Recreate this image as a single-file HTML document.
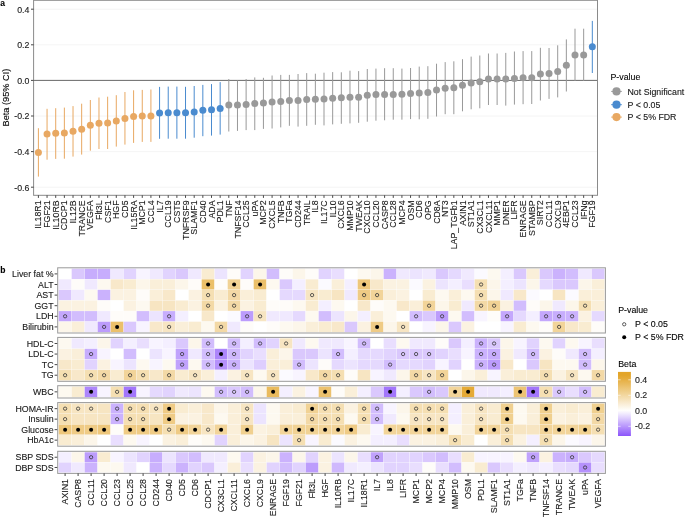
<!DOCTYPE html>
<html><head><meta charset="utf-8"><style>
html,body{margin:0;padding:0;background:#fff;width:685px;height:517px;overflow:hidden}
svg{display:block;filter:blur(0.3px)}
text{font-family:"Liberation Sans",sans-serif;stroke:#1a1a1a;stroke-width:0.12px}
</style></head><body>
<svg width="685" height="517" viewBox="0 0 685 517" font-family="Liberation Sans, sans-serif">
<rect x="0" y="0" width="685" height="517" fill="#fff"/>
<line x1="33.6" x2="597.5" y1="9.20" y2="9.20" stroke="#ebebeb" stroke-width="0.55"/>
<line x1="33.6" x2="597.5" y1="44.80" y2="44.80" stroke="#ebebeb" stroke-width="0.55"/>
<line x1="33.6" x2="597.5" y1="80.40" y2="80.40" stroke="#ebebeb" stroke-width="0.55"/>
<line x1="33.6" x2="597.5" y1="116.00" y2="116.00" stroke="#ebebeb" stroke-width="0.55"/>
<line x1="33.6" x2="597.5" y1="151.60" y2="151.60" stroke="#ebebeb" stroke-width="0.55"/>
<line x1="33.6" x2="597.5" y1="187.20" y2="187.20" stroke="#ebebeb" stroke-width="0.55"/>
<line x1="33.6" x2="597.5" y1="80.40" y2="80.40" stroke="#5a5a5a" stroke-width="0.9"/>
<line x1="38.40" x2="38.40" y1="128.20" y2="176.60" stroke="#e8a862" stroke-width="1.0"/>
<line x1="47.05" x2="47.05" y1="108.80" y2="159.70" stroke="#e8a862" stroke-width="1.0"/>
<line x1="55.71" x2="55.71" y1="108.20" y2="158.90" stroke="#e8a862" stroke-width="1.0"/>
<line x1="64.36" x2="64.36" y1="107.60" y2="158.70" stroke="#e8a862" stroke-width="1.0"/>
<line x1="73.02" x2="73.02" y1="106.10" y2="156.60" stroke="#e8a862" stroke-width="1.0"/>
<line x1="81.67" x2="81.67" y1="103.70" y2="154.60" stroke="#e8a862" stroke-width="1.0"/>
<line x1="90.33" x2="90.33" y1="100.00" y2="150.70" stroke="#e8a862" stroke-width="1.0"/>
<line x1="98.98" x2="98.98" y1="97.50" y2="149.00" stroke="#e8a862" stroke-width="1.0"/>
<line x1="107.64" x2="107.64" y1="96.70" y2="149.00" stroke="#e8a862" stroke-width="1.0"/>
<line x1="116.29" x2="116.29" y1="95.20" y2="146.60" stroke="#e8a862" stroke-width="1.0"/>
<line x1="124.95" x2="124.95" y1="92.00" y2="144.60" stroke="#e8a862" stroke-width="1.0"/>
<line x1="133.60" x2="133.60" y1="90.30" y2="142.90" stroke="#e8a862" stroke-width="1.0"/>
<line x1="142.26" x2="142.26" y1="89.90" y2="141.90" stroke="#e8a862" stroke-width="1.0"/>
<line x1="150.91" x2="150.91" y1="89.50" y2="141.90" stroke="#e8a862" stroke-width="1.0"/>
<line x1="159.57" x2="159.57" y1="86.90" y2="138.80" stroke="#4a8bcf" stroke-width="1.0"/>
<line x1="168.22" x2="168.22" y1="86.60" y2="138.70" stroke="#4a8bcf" stroke-width="1.0"/>
<line x1="176.88" x2="176.88" y1="86.60" y2="138.70" stroke="#4a8bcf" stroke-width="1.0"/>
<line x1="185.53" x2="185.53" y1="86.80" y2="138.70" stroke="#4a8bcf" stroke-width="1.0"/>
<line x1="194.19" x2="194.19" y1="86.00" y2="137.70" stroke="#4a8bcf" stroke-width="1.0"/>
<line x1="202.84" x2="202.84" y1="84.90" y2="136.20" stroke="#4a8bcf" stroke-width="1.0"/>
<line x1="211.50" x2="211.50" y1="84.10" y2="135.60" stroke="#4a8bcf" stroke-width="1.0"/>
<line x1="220.16" x2="220.16" y1="82.10" y2="134.60" stroke="#4a8bcf" stroke-width="1.0"/>
<line x1="228.81" x2="228.81" y1="79.00" y2="131.50" stroke="#999999" stroke-width="1.0"/>
<line x1="237.47" x2="237.47" y1="80.40" y2="130.90" stroke="#999999" stroke-width="1.0"/>
<line x1="246.12" x2="246.12" y1="79.00" y2="130.10" stroke="#999999" stroke-width="1.0"/>
<line x1="254.77" x2="254.77" y1="77.40" y2="130.10" stroke="#999999" stroke-width="1.0"/>
<line x1="263.43" x2="263.43" y1="77.80" y2="128.90" stroke="#999999" stroke-width="1.0"/>
<line x1="272.08" x2="272.08" y1="75.50" y2="128.50" stroke="#999999" stroke-width="1.0"/>
<line x1="280.74" x2="280.74" y1="74.90" y2="127.40" stroke="#999999" stroke-width="1.0"/>
<line x1="289.39" x2="289.39" y1="74.90" y2="125.80" stroke="#999999" stroke-width="1.0"/>
<line x1="298.05" x2="298.05" y1="74.00" y2="126.60" stroke="#999999" stroke-width="1.0"/>
<line x1="306.70" x2="306.70" y1="73.10" y2="125.80" stroke="#999999" stroke-width="1.0"/>
<line x1="315.36" x2="315.36" y1="73.70" y2="124.80" stroke="#999999" stroke-width="1.0"/>
<line x1="324.01" x2="324.01" y1="72.70" y2="125.40" stroke="#999999" stroke-width="1.0"/>
<line x1="332.67" x2="332.67" y1="72.10" y2="124.40" stroke="#999999" stroke-width="1.0"/>
<line x1="341.32" x2="341.32" y1="72.30" y2="123.80" stroke="#999999" stroke-width="1.0"/>
<line x1="349.98" x2="349.98" y1="70.70" y2="123.40" stroke="#999999" stroke-width="1.0"/>
<line x1="358.63" x2="358.63" y1="71.10" y2="122.80" stroke="#999999" stroke-width="1.0"/>
<line x1="367.29" x2="367.29" y1="69.00" y2="121.70" stroke="#999999" stroke-width="1.0"/>
<line x1="375.94" x2="375.94" y1="68.60" y2="120.70" stroke="#999999" stroke-width="1.0"/>
<line x1="384.60" x2="384.60" y1="68.20" y2="120.30" stroke="#999999" stroke-width="1.0"/>
<line x1="393.25" x2="393.25" y1="68.20" y2="119.70" stroke="#999999" stroke-width="1.0"/>
<line x1="401.91" x2="401.91" y1="68.60" y2="119.70" stroke="#999999" stroke-width="1.0"/>
<line x1="410.56" x2="410.56" y1="68.00" y2="119.10" stroke="#999999" stroke-width="1.0"/>
<line x1="419.22" x2="419.22" y1="66.60" y2="119.30" stroke="#999999" stroke-width="1.0"/>
<line x1="427.87" x2="427.87" y1="66.20" y2="118.80" stroke="#999999" stroke-width="1.0"/>
<line x1="436.53" x2="436.53" y1="63.70" y2="116.50" stroke="#999999" stroke-width="1.0"/>
<line x1="445.18" x2="445.18" y1="62.10" y2="114.20" stroke="#999999" stroke-width="1.0"/>
<line x1="453.84" x2="453.84" y1="61.30" y2="114.20" stroke="#999999" stroke-width="1.0"/>
<line x1="462.49" x2="462.49" y1="59.20" y2="111.30" stroke="#999999" stroke-width="1.0"/>
<line x1="471.15" x2="471.15" y1="56.60" y2="109.30" stroke="#999999" stroke-width="1.0"/>
<line x1="479.80" x2="479.80" y1="55.50" y2="108.30" stroke="#999999" stroke-width="1.0"/>
<line x1="488.46" x2="488.46" y1="53.50" y2="105.00" stroke="#999999" stroke-width="1.0"/>
<line x1="497.11" x2="497.11" y1="53.50" y2="105.00" stroke="#999999" stroke-width="1.0"/>
<line x1="505.77" x2="505.77" y1="52.90" y2="105.60" stroke="#999999" stroke-width="1.0"/>
<line x1="514.42" x2="514.42" y1="51.50" y2="104.60" stroke="#999999" stroke-width="1.0"/>
<line x1="523.08" x2="523.08" y1="51.10" y2="104.20" stroke="#999999" stroke-width="1.0"/>
<line x1="531.74" x2="531.74" y1="51.10" y2="104.00" stroke="#999999" stroke-width="1.0"/>
<line x1="540.39" x2="540.39" y1="47.80" y2="100.50" stroke="#999999" stroke-width="1.0"/>
<line x1="549.04" x2="549.04" y1="48.00" y2="98.90" stroke="#999999" stroke-width="1.0"/>
<line x1="557.70" x2="557.70" y1="45.30" y2="97.40" stroke="#999999" stroke-width="1.0"/>
<line x1="566.35" x2="566.35" y1="39.40" y2="91.50" stroke="#999999" stroke-width="1.0"/>
<line x1="575.01" x2="575.01" y1="28.70" y2="80.90" stroke="#999999" stroke-width="1.0"/>
<line x1="583.66" x2="583.66" y1="28.70" y2="80.90" stroke="#999999" stroke-width="1.0"/>
<line x1="592.32" x2="592.32" y1="20.90" y2="73.00" stroke="#4a8bcf" stroke-width="1.0"/>
<circle cx="38.40" cy="152.50" r="3.5" fill="#e8a862"/>
<circle cx="47.05" cy="134.10" r="3.5" fill="#e8a862"/>
<circle cx="55.71" cy="133.30" r="3.5" fill="#e8a862"/>
<circle cx="64.36" cy="132.90" r="3.5" fill="#e8a862"/>
<circle cx="73.02" cy="131.30" r="3.5" fill="#e8a862"/>
<circle cx="81.67" cy="129.20" r="3.5" fill="#e8a862"/>
<circle cx="90.33" cy="125.30" r="3.5" fill="#e8a862"/>
<circle cx="98.98" cy="123.30" r="3.5" fill="#e8a862"/>
<circle cx="107.64" cy="122.90" r="3.5" fill="#e8a862"/>
<circle cx="116.29" cy="121.00" r="3.5" fill="#e8a862"/>
<circle cx="124.95" cy="118.40" r="3.5" fill="#e8a862"/>
<circle cx="133.60" cy="116.60" r="3.5" fill="#e8a862"/>
<circle cx="142.26" cy="116.10" r="3.5" fill="#e8a862"/>
<circle cx="150.91" cy="115.90" r="3.5" fill="#e8a862"/>
<circle cx="159.57" cy="113.00" r="3.5" fill="#4a8bcf"/>
<circle cx="168.22" cy="112.70" r="3.5" fill="#4a8bcf"/>
<circle cx="176.88" cy="112.70" r="3.5" fill="#4a8bcf"/>
<circle cx="185.53" cy="112.70" r="3.5" fill="#4a8bcf"/>
<circle cx="194.19" cy="112.10" r="3.5" fill="#4a8bcf"/>
<circle cx="202.84" cy="110.30" r="3.5" fill="#4a8bcf"/>
<circle cx="211.50" cy="109.70" r="3.5" fill="#4a8bcf"/>
<circle cx="220.16" cy="108.40" r="3.5" fill="#4a8bcf"/>
<circle cx="228.81" cy="105.00" r="3.5" fill="#999999"/>
<circle cx="237.47" cy="105.00" r="3.5" fill="#999999"/>
<circle cx="246.12" cy="104.60" r="3.5" fill="#999999"/>
<circle cx="254.77" cy="103.50" r="3.5" fill="#999999"/>
<circle cx="263.43" cy="103.10" r="3.5" fill="#999999"/>
<circle cx="272.08" cy="101.90" r="3.5" fill="#999999"/>
<circle cx="280.74" cy="101.50" r="3.5" fill="#999999"/>
<circle cx="289.39" cy="100.50" r="3.5" fill="#999999"/>
<circle cx="298.05" cy="100.40" r="3.5" fill="#999999"/>
<circle cx="306.70" cy="99.50" r="3.5" fill="#999999"/>
<circle cx="315.36" cy="99.30" r="3.5" fill="#999999"/>
<circle cx="324.01" cy="98.90" r="3.5" fill="#999999"/>
<circle cx="332.67" cy="98.20" r="3.5" fill="#999999"/>
<circle cx="341.32" cy="97.80" r="3.5" fill="#999999"/>
<circle cx="349.98" cy="97.20" r="3.5" fill="#999999"/>
<circle cx="358.63" cy="97.20" r="3.5" fill="#999999"/>
<circle cx="367.29" cy="95.20" r="3.5" fill="#999999"/>
<circle cx="375.94" cy="94.60" r="3.5" fill="#999999"/>
<circle cx="384.60" cy="94.40" r="3.5" fill="#999999"/>
<circle cx="393.25" cy="94.40" r="3.5" fill="#999999"/>
<circle cx="401.91" cy="94.20" r="3.5" fill="#999999"/>
<circle cx="410.56" cy="93.50" r="3.5" fill="#999999"/>
<circle cx="419.22" cy="93.10" r="3.5" fill="#999999"/>
<circle cx="427.87" cy="92.50" r="3.5" fill="#999999"/>
<circle cx="436.53" cy="89.90" r="3.5" fill="#999999"/>
<circle cx="445.18" cy="88.20" r="3.5" fill="#999999"/>
<circle cx="453.84" cy="87.80" r="3.5" fill="#999999"/>
<circle cx="462.49" cy="85.20" r="3.5" fill="#999999"/>
<circle cx="471.15" cy="83.10" r="3.5" fill="#999999"/>
<circle cx="479.80" cy="81.70" r="3.5" fill="#999999"/>
<circle cx="488.46" cy="79.00" r="3.5" fill="#999999"/>
<circle cx="497.11" cy="79.00" r="3.5" fill="#999999"/>
<circle cx="505.77" cy="79.00" r="3.5" fill="#999999"/>
<circle cx="514.42" cy="78.40" r="3.5" fill="#999999"/>
<circle cx="523.08" cy="77.70" r="3.5" fill="#999999"/>
<circle cx="531.74" cy="77.70" r="3.5" fill="#999999"/>
<circle cx="540.39" cy="74.00" r="3.5" fill="#999999"/>
<circle cx="549.04" cy="73.40" r="3.5" fill="#999999"/>
<circle cx="557.70" cy="71.60" r="3.5" fill="#999999"/>
<circle cx="566.35" cy="65.30" r="3.5" fill="#999999"/>
<circle cx="575.01" cy="54.90" r="3.5" fill="#999999"/>
<circle cx="583.66" cy="54.90" r="3.5" fill="#999999"/>
<circle cx="592.32" cy="46.80" r="3.5" fill="#4a8bcf"/>
<rect x="33.6" y="0.3" width="563.90" height="195.00" fill="none" stroke="#8a8a8a" stroke-width="1"/>
<line x1="31.0" x2="33.6" y1="9.20" y2="9.20" stroke="#333" stroke-width="0.9"/>
<text x="29.4" y="12.60" font-size="8.8" text-anchor="end" fill="#1a1a1a">0.4</text>
<line x1="31.0" x2="33.6" y1="44.80" y2="44.80" stroke="#333" stroke-width="0.9"/>
<text x="29.4" y="48.20" font-size="8.8" text-anchor="end" fill="#1a1a1a">0.2</text>
<line x1="31.0" x2="33.6" y1="80.40" y2="80.40" stroke="#333" stroke-width="0.9"/>
<text x="29.4" y="83.80" font-size="8.8" text-anchor="end" fill="#1a1a1a">0.0</text>
<line x1="31.0" x2="33.6" y1="116.00" y2="116.00" stroke="#333" stroke-width="0.9"/>
<text x="29.4" y="119.40" font-size="8.8" text-anchor="end" fill="#1a1a1a">-0.2</text>
<line x1="31.0" x2="33.6" y1="151.60" y2="151.60" stroke="#333" stroke-width="0.9"/>
<text x="29.4" y="155.00" font-size="8.8" text-anchor="end" fill="#1a1a1a">-0.4</text>
<line x1="31.0" x2="33.6" y1="187.20" y2="187.20" stroke="#333" stroke-width="0.9"/>
<text x="29.4" y="190.60" font-size="8.8" text-anchor="end" fill="#1a1a1a">-0.6</text>
<text transform="translate(8.8,97.6) rotate(-90)" font-size="9.2" text-anchor="middle" fill="#000">Beta (95% CI)</text>
<line x1="38.40" x2="38.40" y1="195.3" y2="197.9" stroke="#333" stroke-width="0.9"/>
<text transform="translate(41.45,200.4) rotate(-90)" font-size="8.8" text-anchor="end" fill="#1a1a1a">IL18R1</text>
<line x1="47.05" x2="47.05" y1="195.3" y2="197.9" stroke="#333" stroke-width="0.9"/>
<text transform="translate(50.10,200.4) rotate(-90)" font-size="8.8" text-anchor="end" fill="#1a1a1a">FGF21</text>
<line x1="55.71" x2="55.71" y1="195.3" y2="197.9" stroke="#333" stroke-width="0.9"/>
<text transform="translate(58.76,200.4) rotate(-90)" font-size="8.8" text-anchor="end" fill="#1a1a1a">IL10RB</text>
<line x1="64.36" x2="64.36" y1="195.3" y2="197.9" stroke="#333" stroke-width="0.9"/>
<text transform="translate(67.41,200.4) rotate(-90)" font-size="8.8" text-anchor="end" fill="#1a1a1a">CDCP1</text>
<line x1="73.02" x2="73.02" y1="195.3" y2="197.9" stroke="#333" stroke-width="0.9"/>
<text transform="translate(76.07,200.4) rotate(-90)" font-size="8.8" text-anchor="end" fill="#1a1a1a">IL12B</text>
<line x1="81.67" x2="81.67" y1="195.3" y2="197.9" stroke="#333" stroke-width="0.9"/>
<text transform="translate(84.72,200.4) rotate(-90)" font-size="8.8" text-anchor="end" fill="#1a1a1a">TRANCE</text>
<line x1="90.33" x2="90.33" y1="195.3" y2="197.9" stroke="#333" stroke-width="0.9"/>
<text transform="translate(93.38,200.4) rotate(-90)" font-size="8.8" text-anchor="end" fill="#1a1a1a">VEGFA</text>
<line x1="98.98" x2="98.98" y1="195.3" y2="197.9" stroke="#333" stroke-width="0.9"/>
<text transform="translate(102.03,200.4) rotate(-90)" font-size="8.8" text-anchor="end" fill="#1a1a1a">Flt3L</text>
<line x1="107.64" x2="107.64" y1="195.3" y2="197.9" stroke="#333" stroke-width="0.9"/>
<text transform="translate(110.69,200.4) rotate(-90)" font-size="8.8" text-anchor="end" fill="#1a1a1a">CSF1</text>
<line x1="116.29" x2="116.29" y1="195.3" y2="197.9" stroke="#333" stroke-width="0.9"/>
<text transform="translate(119.34,200.4) rotate(-90)" font-size="8.8" text-anchor="end" fill="#1a1a1a">HGF</text>
<line x1="124.95" x2="124.95" y1="195.3" y2="197.9" stroke="#333" stroke-width="0.9"/>
<text transform="translate(128.00,200.4) rotate(-90)" font-size="8.8" text-anchor="end" fill="#1a1a1a">CD5</text>
<line x1="133.60" x2="133.60" y1="195.3" y2="197.9" stroke="#333" stroke-width="0.9"/>
<text transform="translate(136.66,200.4) rotate(-90)" font-size="8.8" text-anchor="end" fill="#1a1a1a">IL15RA</text>
<line x1="142.26" x2="142.26" y1="195.3" y2="197.9" stroke="#333" stroke-width="0.9"/>
<text transform="translate(145.31,200.4) rotate(-90)" font-size="8.8" text-anchor="end" fill="#1a1a1a">MCP1</text>
<line x1="150.91" x2="150.91" y1="195.3" y2="197.9" stroke="#333" stroke-width="0.9"/>
<text transform="translate(153.97,200.4) rotate(-90)" font-size="8.8" text-anchor="end" fill="#1a1a1a">CCL4</text>
<line x1="159.57" x2="159.57" y1="195.3" y2="197.9" stroke="#333" stroke-width="0.9"/>
<text transform="translate(162.62,200.4) rotate(-90)" font-size="8.8" text-anchor="end" fill="#1a1a1a">IL7</text>
<line x1="168.22" x2="168.22" y1="195.3" y2="197.9" stroke="#333" stroke-width="0.9"/>
<text transform="translate(171.28,200.4) rotate(-90)" font-size="8.8" text-anchor="end" fill="#1a1a1a">CCL19</text>
<line x1="176.88" x2="176.88" y1="195.3" y2="197.9" stroke="#333" stroke-width="0.9"/>
<text transform="translate(179.93,200.4) rotate(-90)" font-size="8.8" text-anchor="end" fill="#1a1a1a">CST5</text>
<line x1="185.53" x2="185.53" y1="195.3" y2="197.9" stroke="#333" stroke-width="0.9"/>
<text transform="translate(188.59,200.4) rotate(-90)" font-size="8.8" text-anchor="end" fill="#1a1a1a">TNFRSF9</text>
<line x1="194.19" x2="194.19" y1="195.3" y2="197.9" stroke="#333" stroke-width="0.9"/>
<text transform="translate(197.24,200.4) rotate(-90)" font-size="8.8" text-anchor="end" fill="#1a1a1a">SLAMF1</text>
<line x1="202.84" x2="202.84" y1="195.3" y2="197.9" stroke="#333" stroke-width="0.9"/>
<text transform="translate(205.90,200.4) rotate(-90)" font-size="8.8" text-anchor="end" fill="#1a1a1a">CD40</text>
<line x1="211.50" x2="211.50" y1="195.3" y2="197.9" stroke="#333" stroke-width="0.9"/>
<text transform="translate(214.55,200.4) rotate(-90)" font-size="8.8" text-anchor="end" fill="#1a1a1a">ADA</text>
<line x1="220.16" x2="220.16" y1="195.3" y2="197.9" stroke="#333" stroke-width="0.9"/>
<text transform="translate(223.21,200.4) rotate(-90)" font-size="8.8" text-anchor="end" fill="#1a1a1a">PDL1</text>
<line x1="228.81" x2="228.81" y1="195.3" y2="197.9" stroke="#333" stroke-width="0.9"/>
<text transform="translate(231.86,200.4) rotate(-90)" font-size="8.8" text-anchor="end" fill="#1a1a1a">TNF</text>
<line x1="237.47" x2="237.47" y1="195.3" y2="197.9" stroke="#333" stroke-width="0.9"/>
<text transform="translate(240.52,200.4) rotate(-90)" font-size="8.8" text-anchor="end" fill="#1a1a1a">TNFSF14</text>
<line x1="246.12" x2="246.12" y1="195.3" y2="197.9" stroke="#333" stroke-width="0.9"/>
<text transform="translate(249.17,200.4) rotate(-90)" font-size="8.8" text-anchor="end" fill="#1a1a1a">CCL25</text>
<line x1="254.77" x2="254.77" y1="195.3" y2="197.9" stroke="#333" stroke-width="0.9"/>
<text transform="translate(257.82,200.4) rotate(-90)" font-size="8.8" text-anchor="end" fill="#1a1a1a">uPA</text>
<line x1="263.43" x2="263.43" y1="195.3" y2="197.9" stroke="#333" stroke-width="0.9"/>
<text transform="translate(266.48,200.4) rotate(-90)" font-size="8.8" text-anchor="end" fill="#1a1a1a">MCP2</text>
<line x1="272.08" x2="272.08" y1="195.3" y2="197.9" stroke="#333" stroke-width="0.9"/>
<text transform="translate(275.13,200.4) rotate(-90)" font-size="8.8" text-anchor="end" fill="#1a1a1a">CXCL5</text>
<line x1="280.74" x2="280.74" y1="195.3" y2="197.9" stroke="#333" stroke-width="0.9"/>
<text transform="translate(283.79,200.4) rotate(-90)" font-size="8.8" text-anchor="end" fill="#1a1a1a">TNFB</text>
<line x1="289.39" x2="289.39" y1="195.3" y2="197.9" stroke="#333" stroke-width="0.9"/>
<text transform="translate(292.44,200.4) rotate(-90)" font-size="8.8" text-anchor="end" fill="#1a1a1a">TGFa</text>
<line x1="298.05" x2="298.05" y1="195.3" y2="197.9" stroke="#333" stroke-width="0.9"/>
<text transform="translate(301.10,200.4) rotate(-90)" font-size="8.8" text-anchor="end" fill="#1a1a1a">CD244</text>
<line x1="306.70" x2="306.70" y1="195.3" y2="197.9" stroke="#333" stroke-width="0.9"/>
<text transform="translate(309.75,200.4) rotate(-90)" font-size="8.8" text-anchor="end" fill="#1a1a1a">TRAIL</text>
<line x1="315.36" x2="315.36" y1="195.3" y2="197.9" stroke="#333" stroke-width="0.9"/>
<text transform="translate(318.41,200.4) rotate(-90)" font-size="8.8" text-anchor="end" fill="#1a1a1a">IL8</text>
<line x1="324.01" x2="324.01" y1="195.3" y2="197.9" stroke="#333" stroke-width="0.9"/>
<text transform="translate(327.06,200.4) rotate(-90)" font-size="8.8" text-anchor="end" fill="#1a1a1a">IL17C</text>
<line x1="332.67" x2="332.67" y1="195.3" y2="197.9" stroke="#333" stroke-width="0.9"/>
<text transform="translate(335.72,200.4) rotate(-90)" font-size="8.8" text-anchor="end" fill="#1a1a1a">IL10</text>
<line x1="341.32" x2="341.32" y1="195.3" y2="197.9" stroke="#333" stroke-width="0.9"/>
<text transform="translate(344.37,200.4) rotate(-90)" font-size="8.8" text-anchor="end" fill="#1a1a1a">CXCL6</text>
<line x1="349.98" x2="349.98" y1="195.3" y2="197.9" stroke="#333" stroke-width="0.9"/>
<text transform="translate(353.03,200.4) rotate(-90)" font-size="8.8" text-anchor="end" fill="#1a1a1a">MMP10</text>
<line x1="358.63" x2="358.63" y1="195.3" y2="197.9" stroke="#333" stroke-width="0.9"/>
<text transform="translate(361.68,200.4) rotate(-90)" font-size="8.8" text-anchor="end" fill="#1a1a1a">TWEAK</text>
<line x1="367.29" x2="367.29" y1="195.3" y2="197.9" stroke="#333" stroke-width="0.9"/>
<text transform="translate(370.34,200.4) rotate(-90)" font-size="8.8" text-anchor="end" fill="#1a1a1a">CXCL10</text>
<line x1="375.94" x2="375.94" y1="195.3" y2="197.9" stroke="#333" stroke-width="0.9"/>
<text transform="translate(378.99,200.4) rotate(-90)" font-size="8.8" text-anchor="end" fill="#1a1a1a">CCL20</text>
<line x1="384.60" x2="384.60" y1="195.3" y2="197.9" stroke="#333" stroke-width="0.9"/>
<text transform="translate(387.65,200.4) rotate(-90)" font-size="8.8" text-anchor="end" fill="#1a1a1a">CASP8</text>
<line x1="393.25" x2="393.25" y1="195.3" y2="197.9" stroke="#333" stroke-width="0.9"/>
<text transform="translate(396.30,200.4) rotate(-90)" font-size="8.8" text-anchor="end" fill="#1a1a1a">CCL28</text>
<line x1="401.91" x2="401.91" y1="195.3" y2="197.9" stroke="#333" stroke-width="0.9"/>
<text transform="translate(404.96,200.4) rotate(-90)" font-size="8.8" text-anchor="end" fill="#1a1a1a">MCP4</text>
<line x1="410.56" x2="410.56" y1="195.3" y2="197.9" stroke="#333" stroke-width="0.9"/>
<text transform="translate(413.61,200.4) rotate(-90)" font-size="8.8" text-anchor="end" fill="#1a1a1a">OSM</text>
<line x1="419.22" x2="419.22" y1="195.3" y2="197.9" stroke="#333" stroke-width="0.9"/>
<text transform="translate(422.27,200.4) rotate(-90)" font-size="8.8" text-anchor="end" fill="#1a1a1a">CD6</text>
<line x1="427.87" x2="427.87" y1="195.3" y2="197.9" stroke="#333" stroke-width="0.9"/>
<text transform="translate(430.92,200.4) rotate(-90)" font-size="8.8" text-anchor="end" fill="#1a1a1a">OPG</text>
<line x1="436.53" x2="436.53" y1="195.3" y2="197.9" stroke="#333" stroke-width="0.9"/>
<text transform="translate(439.58,200.4) rotate(-90)" font-size="8.8" text-anchor="end" fill="#1a1a1a">CD8A</text>
<line x1="445.18" x2="445.18" y1="195.3" y2="197.9" stroke="#333" stroke-width="0.9"/>
<text transform="translate(448.23,200.4) rotate(-90)" font-size="8.8" text-anchor="end" fill="#1a1a1a">NT3</text>
<line x1="453.84" x2="453.84" y1="195.3" y2="197.9" stroke="#333" stroke-width="0.9"/>
<text transform="translate(456.89,200.4) rotate(-90)" font-size="8.8" text-anchor="end" fill="#1a1a1a">LAP_TGFb1</text>
<line x1="462.49" x2="462.49" y1="195.3" y2="197.9" stroke="#333" stroke-width="0.9"/>
<text transform="translate(465.54,200.4) rotate(-90)" font-size="8.8" text-anchor="end" fill="#1a1a1a">AXIN1</text>
<line x1="471.15" x2="471.15" y1="195.3" y2="197.9" stroke="#333" stroke-width="0.9"/>
<text transform="translate(474.20,200.4) rotate(-90)" font-size="8.8" text-anchor="end" fill="#1a1a1a">ST1A1</text>
<line x1="479.80" x2="479.80" y1="195.3" y2="197.9" stroke="#333" stroke-width="0.9"/>
<text transform="translate(482.85,200.4) rotate(-90)" font-size="8.8" text-anchor="end" fill="#1a1a1a">CX3CL1</text>
<line x1="488.46" x2="488.46" y1="195.3" y2="197.9" stroke="#333" stroke-width="0.9"/>
<text transform="translate(491.51,200.4) rotate(-90)" font-size="8.8" text-anchor="end" fill="#1a1a1a">CXCL11</text>
<line x1="497.11" x2="497.11" y1="195.3" y2="197.9" stroke="#333" stroke-width="0.9"/>
<text transform="translate(500.16,200.4) rotate(-90)" font-size="8.8" text-anchor="end" fill="#1a1a1a">MMP1</text>
<line x1="505.77" x2="505.77" y1="195.3" y2="197.9" stroke="#333" stroke-width="0.9"/>
<text transform="translate(508.82,200.4) rotate(-90)" font-size="8.8" text-anchor="end" fill="#1a1a1a">DNER</text>
<line x1="514.42" x2="514.42" y1="195.3" y2="197.9" stroke="#333" stroke-width="0.9"/>
<text transform="translate(517.47,200.4) rotate(-90)" font-size="8.8" text-anchor="end" fill="#1a1a1a">LIFR</text>
<line x1="523.08" x2="523.08" y1="195.3" y2="197.9" stroke="#333" stroke-width="0.9"/>
<text transform="translate(526.13,200.4) rotate(-90)" font-size="8.8" text-anchor="end" fill="#1a1a1a">ENRAGE</text>
<line x1="531.74" x2="531.74" y1="195.3" y2="197.9" stroke="#333" stroke-width="0.9"/>
<text transform="translate(534.78,200.4) rotate(-90)" font-size="8.8" text-anchor="end" fill="#1a1a1a">STAMBP</text>
<line x1="540.39" x2="540.39" y1="195.3" y2="197.9" stroke="#333" stroke-width="0.9"/>
<text transform="translate(543.44,200.4) rotate(-90)" font-size="8.8" text-anchor="end" fill="#1a1a1a">SIRT2</text>
<line x1="549.04" x2="549.04" y1="195.3" y2="197.9" stroke="#333" stroke-width="0.9"/>
<text transform="translate(552.09,200.4) rotate(-90)" font-size="8.8" text-anchor="end" fill="#1a1a1a">CCL11</text>
<line x1="557.70" x2="557.70" y1="195.3" y2="197.9" stroke="#333" stroke-width="0.9"/>
<text transform="translate(560.75,200.4) rotate(-90)" font-size="8.8" text-anchor="end" fill="#1a1a1a">CXCL9</text>
<line x1="566.35" x2="566.35" y1="195.3" y2="197.9" stroke="#333" stroke-width="0.9"/>
<text transform="translate(569.40,200.4) rotate(-90)" font-size="8.8" text-anchor="end" fill="#1a1a1a">4EBP1</text>
<line x1="575.01" x2="575.01" y1="195.3" y2="197.9" stroke="#333" stroke-width="0.9"/>
<text transform="translate(578.06,200.4) rotate(-90)" font-size="8.8" text-anchor="end" fill="#1a1a1a">CCL23</text>
<line x1="583.66" x2="583.66" y1="195.3" y2="197.9" stroke="#333" stroke-width="0.9"/>
<text transform="translate(586.71,200.4) rotate(-90)" font-size="8.8" text-anchor="end" fill="#1a1a1a">IFNg</text>
<line x1="592.32" x2="592.32" y1="195.3" y2="197.9" stroke="#333" stroke-width="0.9"/>
<text transform="translate(595.37,200.4) rotate(-90)" font-size="8.8" text-anchor="end" fill="#1a1a1a">FGF19</text>
<text x="0.2" y="6.3" font-size="8.5" font-weight="bold" fill="#000">a</text>
<text x="610.5" y="80.1" font-size="8.8" fill="#000">P-value</text>
<line x1="611.2" x2="621.8" y1="91.4" y2="91.4" stroke="#999999" stroke-width="1"/>
<circle cx="616.5" cy="91.4" r="4.1" fill="#999999"/>
<text x="627.5" y="94.60" font-size="8.8" fill="#1a1a1a">Not Significant</text>
<line x1="611.2" x2="621.8" y1="104.7" y2="104.7" stroke="#4a8bcf" stroke-width="1"/>
<circle cx="616.5" cy="104.7" r="4.1" fill="#4a8bcf"/>
<text x="627.5" y="107.90" font-size="8.8" fill="#1a1a1a">P &lt; 0.05</text>
<line x1="611.2" x2="621.8" y1="117.1" y2="117.1" stroke="#e8a862" stroke-width="1"/>
<circle cx="616.5" cy="117.1" r="4.1" fill="#e8a862"/>
<text x="627.5" y="120.30" font-size="8.8" fill="#1a1a1a">P &lt; 5% FDR</text>
<text x="0.2" y="273.0" font-size="8.5" font-weight="bold" fill="#000">b</text>
<rect x="58.60" y="268.60" width="13.00" height="10.60" fill="#ffffff" stroke="#fff" stroke-width="0.2"/>
<rect x="71.60" y="268.60" width="13.00" height="10.60" fill="#dac8fd" stroke="#fff" stroke-width="0.2"/>
<rect x="84.60" y="268.60" width="13.00" height="10.60" fill="#c7adfd" stroke="#fff" stroke-width="0.2"/>
<rect x="97.60" y="268.60" width="13.00" height="10.60" fill="#c7adfd" stroke="#fff" stroke-width="0.2"/>
<rect x="110.60" y="268.60" width="13.00" height="10.60" fill="#f0e9fe" stroke="#fff" stroke-width="0.2"/>
<rect x="123.60" y="268.60" width="13.00" height="10.60" fill="#e1d3fe" stroke="#fff" stroke-width="0.2"/>
<rect x="136.60" y="268.60" width="13.00" height="10.60" fill="#f8f4ff" stroke="#fff" stroke-width="0.2"/>
<rect x="149.60" y="268.60" width="13.00" height="10.60" fill="#f0e9fe" stroke="#fff" stroke-width="0.2"/>
<rect x="162.60" y="268.60" width="13.00" height="10.60" fill="#e1d3fe" stroke="#fff" stroke-width="0.2"/>
<rect x="175.60" y="268.60" width="13.00" height="10.60" fill="#dac8fd" stroke="#fff" stroke-width="0.2"/>
<rect x="188.60" y="268.60" width="13.00" height="10.60" fill="#f0e9fe" stroke="#fff" stroke-width="0.2"/>
<rect x="201.60" y="268.60" width="13.00" height="10.60" fill="#f9ecd1" stroke="#fff" stroke-width="0.2"/>
<rect x="214.60" y="268.60" width="13.00" height="10.60" fill="#ece4fe" stroke="#fff" stroke-width="0.2"/>
<rect x="227.60" y="268.60" width="13.00" height="10.60" fill="#fefcf9" stroke="#fff" stroke-width="0.2"/>
<rect x="240.60" y="268.60" width="13.00" height="10.60" fill="#e1d3fe" stroke="#fff" stroke-width="0.2"/>
<rect x="253.60" y="268.60" width="13.00" height="10.60" fill="#fcf6ea" stroke="#fff" stroke-width="0.2"/>
<rect x="266.60" y="268.60" width="13.00" height="10.60" fill="#d2bdfd" stroke="#fff" stroke-width="0.2"/>
<rect x="279.60" y="268.60" width="13.00" height="10.60" fill="#fefcf9" stroke="#fff" stroke-width="0.2"/>
<rect x="292.60" y="268.60" width="13.00" height="10.60" fill="#fcf6ea" stroke="#fff" stroke-width="0.2"/>
<rect x="305.60" y="268.60" width="13.00" height="10.60" fill="#fefcf9" stroke="#fff" stroke-width="0.2"/>
<rect x="318.60" y="268.60" width="13.00" height="10.60" fill="#e1d3fe" stroke="#fff" stroke-width="0.2"/>
<rect x="331.60" y="268.60" width="13.00" height="10.60" fill="#e9defe" stroke="#fff" stroke-width="0.2"/>
<rect x="344.60" y="268.60" width="13.00" height="10.60" fill="#ffffff" stroke="#fff" stroke-width="0.2"/>
<rect x="357.60" y="268.60" width="13.00" height="10.60" fill="#fdf9f0" stroke="#fff" stroke-width="0.2"/>
<rect x="370.60" y="268.60" width="13.00" height="10.60" fill="#fcf6ea" stroke="#fff" stroke-width="0.2"/>
<rect x="383.60" y="268.60" width="13.00" height="10.60" fill="#cbb2fd" stroke="#fff" stroke-width="0.2"/>
<rect x="396.60" y="268.60" width="13.00" height="10.60" fill="#f0e9fe" stroke="#fff" stroke-width="0.2"/>
<rect x="409.60" y="268.60" width="13.00" height="10.60" fill="#ece4fe" stroke="#fff" stroke-width="0.2"/>
<rect x="422.60" y="268.60" width="13.00" height="10.60" fill="#f0e9fe" stroke="#fff" stroke-width="0.2"/>
<rect x="435.60" y="268.60" width="13.00" height="10.60" fill="#dac8fd" stroke="#fff" stroke-width="0.2"/>
<rect x="448.60" y="268.60" width="13.00" height="10.60" fill="#e5d9fe" stroke="#fff" stroke-width="0.2"/>
<rect x="461.60" y="268.60" width="13.00" height="10.60" fill="#f0e9fe" stroke="#fff" stroke-width="0.2"/>
<rect x="474.60" y="268.60" width="13.00" height="10.60" fill="#fbfaff" stroke="#fff" stroke-width="0.2"/>
<rect x="487.60" y="268.60" width="13.00" height="10.60" fill="#fdf9f0" stroke="#fff" stroke-width="0.2"/>
<rect x="500.60" y="268.60" width="13.00" height="10.60" fill="#f4efff" stroke="#fff" stroke-width="0.2"/>
<rect x="513.60" y="268.60" width="13.00" height="10.60" fill="#dac8fd" stroke="#fff" stroke-width="0.2"/>
<rect x="526.60" y="268.60" width="13.00" height="10.60" fill="#faefd9" stroke="#fff" stroke-width="0.2"/>
<rect x="539.60" y="268.60" width="13.00" height="10.60" fill="#dac8fd" stroke="#fff" stroke-width="0.2"/>
<rect x="552.60" y="268.60" width="13.00" height="10.60" fill="#cbb2fd" stroke="#fff" stroke-width="0.2"/>
<rect x="565.60" y="268.60" width="13.00" height="10.60" fill="#d2bdfd" stroke="#fff" stroke-width="0.2"/>
<rect x="578.60" y="268.60" width="13.00" height="10.60" fill="#f0e9fe" stroke="#fff" stroke-width="0.2"/>
<rect x="591.60" y="268.60" width="13.00" height="10.60" fill="#dac8fd" stroke="#fff" stroke-width="0.2"/>
<rect x="58.60" y="279.20" width="13.00" height="10.60" fill="#f0e9fe" stroke="#fff" stroke-width="0.2"/>
<rect x="71.60" y="279.20" width="13.00" height="10.60" fill="#fefcf9" stroke="#fff" stroke-width="0.2"/>
<rect x="84.60" y="279.20" width="13.00" height="10.60" fill="#f0e9fe" stroke="#fff" stroke-width="0.2"/>
<rect x="97.60" y="279.20" width="13.00" height="10.60" fill="#fdf9f0" stroke="#fff" stroke-width="0.2"/>
<rect x="110.60" y="279.20" width="13.00" height="10.60" fill="#f8e8ca" stroke="#fff" stroke-width="0.2"/>
<rect x="123.60" y="279.20" width="13.00" height="10.60" fill="#f9ecd1" stroke="#fff" stroke-width="0.2"/>
<rect x="136.60" y="279.20" width="13.00" height="10.60" fill="#fcf6ea" stroke="#fff" stroke-width="0.2"/>
<rect x="149.60" y="279.20" width="13.00" height="10.60" fill="#faefd9" stroke="#fff" stroke-width="0.2"/>
<rect x="162.60" y="279.20" width="13.00" height="10.60" fill="#faefd9" stroke="#fff" stroke-width="0.2"/>
<rect x="175.60" y="279.20" width="13.00" height="10.60" fill="#fcf6ea" stroke="#fff" stroke-width="0.2"/>
<rect x="188.60" y="279.20" width="13.00" height="10.60" fill="#fefcf9" stroke="#fff" stroke-width="0.2"/>
<rect x="201.60" y="279.20" width="13.00" height="10.60" fill="#ebc06a" stroke="#fff" stroke-width="0.2"/>
<rect x="214.60" y="279.20" width="13.00" height="10.60" fill="#fefcf9" stroke="#fff" stroke-width="0.2"/>
<rect x="227.60" y="279.20" width="13.00" height="10.60" fill="#f1d294" stroke="#fff" stroke-width="0.2"/>
<rect x="240.60" y="279.20" width="13.00" height="10.60" fill="#fefcf9" stroke="#fff" stroke-width="0.2"/>
<rect x="253.60" y="279.20" width="13.00" height="10.60" fill="#ebc06a" stroke="#fff" stroke-width="0.2"/>
<rect x="266.60" y="279.20" width="13.00" height="10.60" fill="#fdf9f0" stroke="#fff" stroke-width="0.2"/>
<rect x="279.60" y="279.20" width="13.00" height="10.60" fill="#dac8fd" stroke="#fff" stroke-width="0.2"/>
<rect x="292.60" y="279.20" width="13.00" height="10.60" fill="#f4efff" stroke="#fff" stroke-width="0.2"/>
<rect x="305.60" y="279.20" width="13.00" height="10.60" fill="#f9ecd1" stroke="#fff" stroke-width="0.2"/>
<rect x="318.60" y="279.20" width="13.00" height="10.60" fill="#fbfaff" stroke="#fff" stroke-width="0.2"/>
<rect x="331.60" y="279.20" width="13.00" height="10.60" fill="#faefd9" stroke="#fff" stroke-width="0.2"/>
<rect x="344.60" y="279.20" width="13.00" height="10.60" fill="#f4efff" stroke="#fff" stroke-width="0.2"/>
<rect x="357.60" y="279.20" width="13.00" height="10.60" fill="#eec77b" stroke="#fff" stroke-width="0.2"/>
<rect x="370.60" y="279.20" width="13.00" height="10.60" fill="#f8e8ca" stroke="#fff" stroke-width="0.2"/>
<rect x="383.60" y="279.20" width="13.00" height="10.60" fill="#fbf2e1" stroke="#fff" stroke-width="0.2"/>
<rect x="396.60" y="279.20" width="13.00" height="10.60" fill="#fbf2e1" stroke="#fff" stroke-width="0.2"/>
<rect x="409.60" y="279.20" width="13.00" height="10.60" fill="#fbfaff" stroke="#fff" stroke-width="0.2"/>
<rect x="422.60" y="279.20" width="13.00" height="10.60" fill="#fbf2e1" stroke="#fff" stroke-width="0.2"/>
<rect x="435.60" y="279.20" width="13.00" height="10.60" fill="#ece4fe" stroke="#fff" stroke-width="0.2"/>
<rect x="448.60" y="279.20" width="13.00" height="10.60" fill="#f4efff" stroke="#fff" stroke-width="0.2"/>
<rect x="461.60" y="279.20" width="13.00" height="10.60" fill="#e9defe" stroke="#fff" stroke-width="0.2"/>
<rect x="474.60" y="279.20" width="13.00" height="10.60" fill="#f5dfb2" stroke="#fff" stroke-width="0.2"/>
<rect x="487.60" y="279.20" width="13.00" height="10.60" fill="#fcf6ea" stroke="#fff" stroke-width="0.2"/>
<rect x="500.60" y="279.20" width="13.00" height="10.60" fill="#f4efff" stroke="#fff" stroke-width="0.2"/>
<rect x="513.60" y="279.20" width="13.00" height="10.60" fill="#ece4fe" stroke="#fff" stroke-width="0.2"/>
<rect x="526.60" y="279.20" width="13.00" height="10.60" fill="#fcf6ea" stroke="#fff" stroke-width="0.2"/>
<rect x="539.60" y="279.20" width="13.00" height="10.60" fill="#e5d9fe" stroke="#fff" stroke-width="0.2"/>
<rect x="552.60" y="279.20" width="13.00" height="10.60" fill="#dac8fd" stroke="#fff" stroke-width="0.2"/>
<rect x="565.60" y="279.20" width="13.00" height="10.60" fill="#dac8fd" stroke="#fff" stroke-width="0.2"/>
<rect x="578.60" y="279.20" width="13.00" height="10.60" fill="#fcf6ea" stroke="#fff" stroke-width="0.2"/>
<rect x="591.60" y="279.20" width="13.00" height="10.60" fill="#faefd9" stroke="#fff" stroke-width="0.2"/>
<rect x="58.60" y="289.80" width="13.00" height="10.60" fill="#dac8fd" stroke="#fff" stroke-width="0.2"/>
<rect x="71.60" y="289.80" width="13.00" height="10.60" fill="#f0e9fe" stroke="#fff" stroke-width="0.2"/>
<rect x="84.60" y="289.80" width="13.00" height="10.60" fill="#fdf9f0" stroke="#fff" stroke-width="0.2"/>
<rect x="97.60" y="289.80" width="13.00" height="10.60" fill="#cbb2fd" stroke="#fff" stroke-width="0.2"/>
<rect x="110.60" y="289.80" width="13.00" height="10.60" fill="#fbf2e1" stroke="#fff" stroke-width="0.2"/>
<rect x="123.60" y="289.80" width="13.00" height="10.60" fill="#fbf2e1" stroke="#fff" stroke-width="0.2"/>
<rect x="136.60" y="289.80" width="13.00" height="10.60" fill="#fefcf9" stroke="#fff" stroke-width="0.2"/>
<rect x="149.60" y="289.80" width="13.00" height="10.60" fill="#faefd9" stroke="#fff" stroke-width="0.2"/>
<rect x="162.60" y="289.80" width="13.00" height="10.60" fill="#f8e8ca" stroke="#fff" stroke-width="0.2"/>
<rect x="175.60" y="289.80" width="13.00" height="10.60" fill="#ffffff" stroke="#fff" stroke-width="0.2"/>
<rect x="188.60" y="289.80" width="13.00" height="10.60" fill="#fbf2e1" stroke="#fff" stroke-width="0.2"/>
<rect x="201.60" y="289.80" width="13.00" height="10.60" fill="#f5dfb2" stroke="#fff" stroke-width="0.2"/>
<rect x="214.60" y="289.80" width="13.00" height="10.60" fill="#f9ecd1" stroke="#fff" stroke-width="0.2"/>
<rect x="227.60" y="289.80" width="13.00" height="10.60" fill="#f3d9a6" stroke="#fff" stroke-width="0.2"/>
<rect x="240.60" y="289.80" width="13.00" height="10.60" fill="#faefd9" stroke="#fff" stroke-width="0.2"/>
<rect x="253.60" y="289.80" width="13.00" height="10.60" fill="#f9ecd1" stroke="#fff" stroke-width="0.2"/>
<rect x="266.60" y="289.80" width="13.00" height="10.60" fill="#ffffff" stroke="#fff" stroke-width="0.2"/>
<rect x="279.60" y="289.80" width="13.00" height="10.60" fill="#e5d9fe" stroke="#fff" stroke-width="0.2"/>
<rect x="292.60" y="289.80" width="13.00" height="10.60" fill="#e5d9fe" stroke="#fff" stroke-width="0.2"/>
<rect x="305.60" y="289.80" width="13.00" height="10.60" fill="#f7e5c2" stroke="#fff" stroke-width="0.2"/>
<rect x="318.60" y="289.80" width="13.00" height="10.60" fill="#f9ecd1" stroke="#fff" stroke-width="0.2"/>
<rect x="331.60" y="289.80" width="13.00" height="10.60" fill="#f7e5c2" stroke="#fff" stroke-width="0.2"/>
<rect x="344.60" y="289.80" width="13.00" height="10.60" fill="#f0e9fe" stroke="#fff" stroke-width="0.2"/>
<rect x="357.60" y="289.80" width="13.00" height="10.60" fill="#efcb85" stroke="#fff" stroke-width="0.2"/>
<rect x="370.60" y="289.80" width="13.00" height="10.60" fill="#f2d499" stroke="#fff" stroke-width="0.2"/>
<rect x="383.60" y="289.80" width="13.00" height="10.60" fill="#faefd9" stroke="#fff" stroke-width="0.2"/>
<rect x="396.60" y="289.80" width="13.00" height="10.60" fill="#fbf2e1" stroke="#fff" stroke-width="0.2"/>
<rect x="409.60" y="289.80" width="13.00" height="10.60" fill="#ffffff" stroke="#fff" stroke-width="0.2"/>
<rect x="422.60" y="289.80" width="13.00" height="10.60" fill="#f9ecd1" stroke="#fff" stroke-width="0.2"/>
<rect x="435.60" y="289.80" width="13.00" height="10.60" fill="#fdf9f0" stroke="#fff" stroke-width="0.2"/>
<rect x="448.60" y="289.80" width="13.00" height="10.60" fill="#faefd9" stroke="#fff" stroke-width="0.2"/>
<rect x="461.60" y="289.80" width="13.00" height="10.60" fill="#fdf9f0" stroke="#fff" stroke-width="0.2"/>
<rect x="474.60" y="289.80" width="13.00" height="10.60" fill="#f5dfb2" stroke="#fff" stroke-width="0.2"/>
<rect x="487.60" y="289.80" width="13.00" height="10.60" fill="#fcf6ea" stroke="#fff" stroke-width="0.2"/>
<rect x="500.60" y="289.80" width="13.00" height="10.60" fill="#f0e9fe" stroke="#fff" stroke-width="0.2"/>
<rect x="513.60" y="289.80" width="13.00" height="10.60" fill="#f8e8ca" stroke="#fff" stroke-width="0.2"/>
<rect x="526.60" y="289.80" width="13.00" height="10.60" fill="#fbfaff" stroke="#fff" stroke-width="0.2"/>
<rect x="539.60" y="289.80" width="13.00" height="10.60" fill="#ffffff" stroke="#fff" stroke-width="0.2"/>
<rect x="552.60" y="289.80" width="13.00" height="10.60" fill="#f7e5c2" stroke="#fff" stroke-width="0.2"/>
<rect x="565.60" y="289.80" width="13.00" height="10.60" fill="#fbfaff" stroke="#fff" stroke-width="0.2"/>
<rect x="578.60" y="289.80" width="13.00" height="10.60" fill="#faefd9" stroke="#fff" stroke-width="0.2"/>
<rect x="591.60" y="289.80" width="13.00" height="10.60" fill="#faefd9" stroke="#fff" stroke-width="0.2"/>
<rect x="58.60" y="300.40" width="13.00" height="10.60" fill="#fbf2e1" stroke="#fff" stroke-width="0.2"/>
<rect x="71.60" y="300.40" width="13.00" height="10.60" fill="#fbf2e1" stroke="#fff" stroke-width="0.2"/>
<rect x="84.60" y="300.40" width="13.00" height="10.60" fill="#fbf2e1" stroke="#fff" stroke-width="0.2"/>
<rect x="97.60" y="300.40" width="13.00" height="10.60" fill="#fefcf9" stroke="#fff" stroke-width="0.2"/>
<rect x="110.60" y="300.40" width="13.00" height="10.60" fill="#ffffff" stroke="#fff" stroke-width="0.2"/>
<rect x="123.60" y="300.40" width="13.00" height="10.60" fill="#fbf2e1" stroke="#fff" stroke-width="0.2"/>
<rect x="136.60" y="300.40" width="13.00" height="10.60" fill="#fdf9f0" stroke="#fff" stroke-width="0.2"/>
<rect x="149.60" y="300.40" width="13.00" height="10.60" fill="#f7e5c2" stroke="#fff" stroke-width="0.2"/>
<rect x="162.60" y="300.40" width="13.00" height="10.60" fill="#f7e5c2" stroke="#fff" stroke-width="0.2"/>
<rect x="175.60" y="300.40" width="13.00" height="10.60" fill="#f9ecd1" stroke="#fff" stroke-width="0.2"/>
<rect x="188.60" y="300.40" width="13.00" height="10.60" fill="#fbf2e1" stroke="#fff" stroke-width="0.2"/>
<rect x="201.60" y="300.40" width="13.00" height="10.60" fill="#f3d9a6" stroke="#fff" stroke-width="0.2"/>
<rect x="214.60" y="300.40" width="13.00" height="10.60" fill="#fbf2e1" stroke="#fff" stroke-width="0.2"/>
<rect x="227.60" y="300.40" width="13.00" height="10.60" fill="#f3d9a6" stroke="#fff" stroke-width="0.2"/>
<rect x="240.60" y="300.40" width="13.00" height="10.60" fill="#fbf2e1" stroke="#fff" stroke-width="0.2"/>
<rect x="253.60" y="300.40" width="13.00" height="10.60" fill="#f9ecd1" stroke="#fff" stroke-width="0.2"/>
<rect x="266.60" y="300.40" width="13.00" height="10.60" fill="#fefcf9" stroke="#fff" stroke-width="0.2"/>
<rect x="279.60" y="300.40" width="13.00" height="10.60" fill="#fefcf9" stroke="#fff" stroke-width="0.2"/>
<rect x="292.60" y="300.40" width="13.00" height="10.60" fill="#fdf9f0" stroke="#fff" stroke-width="0.2"/>
<rect x="305.60" y="300.40" width="13.00" height="10.60" fill="#f9ecd1" stroke="#fff" stroke-width="0.2"/>
<rect x="318.60" y="300.40" width="13.00" height="10.60" fill="#f4efff" stroke="#fff" stroke-width="0.2"/>
<rect x="331.60" y="300.40" width="13.00" height="10.60" fill="#fdf9f0" stroke="#fff" stroke-width="0.2"/>
<rect x="344.60" y="300.40" width="13.00" height="10.60" fill="#ffffff" stroke="#fff" stroke-width="0.2"/>
<rect x="357.60" y="300.40" width="13.00" height="10.60" fill="#f8e8ca" stroke="#fff" stroke-width="0.2"/>
<rect x="370.60" y="300.40" width="13.00" height="10.60" fill="#fefcf9" stroke="#fff" stroke-width="0.2"/>
<rect x="383.60" y="300.40" width="13.00" height="10.60" fill="#fdf9f0" stroke="#fff" stroke-width="0.2"/>
<rect x="396.60" y="300.40" width="13.00" height="10.60" fill="#f8e8ca" stroke="#fff" stroke-width="0.2"/>
<rect x="409.60" y="300.40" width="13.00" height="10.60" fill="#faefd9" stroke="#fff" stroke-width="0.2"/>
<rect x="422.60" y="300.40" width="13.00" height="10.60" fill="#f2d499" stroke="#fff" stroke-width="0.2"/>
<rect x="435.60" y="300.40" width="13.00" height="10.60" fill="#fcf6ea" stroke="#fff" stroke-width="0.2"/>
<rect x="448.60" y="300.40" width="13.00" height="10.60" fill="#f9ecd1" stroke="#fff" stroke-width="0.2"/>
<rect x="461.60" y="300.40" width="13.00" height="10.60" fill="#f0e9fe" stroke="#fff" stroke-width="0.2"/>
<rect x="474.60" y="300.40" width="13.00" height="10.60" fill="#f3d9a6" stroke="#fff" stroke-width="0.2"/>
<rect x="487.60" y="300.40" width="13.00" height="10.60" fill="#f1d294" stroke="#fff" stroke-width="0.2"/>
<rect x="500.60" y="300.40" width="13.00" height="10.60" fill="#fbf2e1" stroke="#fff" stroke-width="0.2"/>
<rect x="513.60" y="300.40" width="13.00" height="10.60" fill="#d2bdfd" stroke="#fff" stroke-width="0.2"/>
<rect x="526.60" y="300.40" width="13.00" height="10.60" fill="#fefcf9" stroke="#fff" stroke-width="0.2"/>
<rect x="539.60" y="300.40" width="13.00" height="10.60" fill="#fcf6ea" stroke="#fff" stroke-width="0.2"/>
<rect x="552.60" y="300.40" width="13.00" height="10.60" fill="#f0e9fe" stroke="#fff" stroke-width="0.2"/>
<rect x="565.60" y="300.40" width="13.00" height="10.60" fill="#fcf6ea" stroke="#fff" stroke-width="0.2"/>
<rect x="578.60" y="300.40" width="13.00" height="10.60" fill="#f5dfb2" stroke="#fff" stroke-width="0.2"/>
<rect x="591.60" y="300.40" width="13.00" height="10.60" fill="#faefd9" stroke="#fff" stroke-width="0.2"/>
<rect x="58.60" y="311.00" width="13.00" height="10.60" fill="#c4a7fc" stroke="#fff" stroke-width="0.2"/>
<rect x="71.60" y="311.00" width="13.00" height="10.60" fill="#d2bdfd" stroke="#fff" stroke-width="0.2"/>
<rect x="84.60" y="311.00" width="13.00" height="10.60" fill="#d2bdfd" stroke="#fff" stroke-width="0.2"/>
<rect x="97.60" y="311.00" width="13.00" height="10.60" fill="#f0e9fe" stroke="#fff" stroke-width="0.2"/>
<rect x="110.60" y="311.00" width="13.00" height="10.60" fill="#fefcf9" stroke="#fff" stroke-width="0.2"/>
<rect x="123.60" y="311.00" width="13.00" height="10.60" fill="#fefcf9" stroke="#fff" stroke-width="0.2"/>
<rect x="136.60" y="311.00" width="13.00" height="10.60" fill="#d2bdfd" stroke="#fff" stroke-width="0.2"/>
<rect x="149.60" y="311.00" width="13.00" height="10.60" fill="#ece4fe" stroke="#fff" stroke-width="0.2"/>
<rect x="162.60" y="311.00" width="13.00" height="10.60" fill="#c7adfd" stroke="#fff" stroke-width="0.2"/>
<rect x="175.60" y="311.00" width="13.00" height="10.60" fill="#f4efff" stroke="#fff" stroke-width="0.2"/>
<rect x="188.60" y="311.00" width="13.00" height="10.60" fill="#ffffff" stroke="#fff" stroke-width="0.2"/>
<rect x="201.60" y="311.00" width="13.00" height="10.60" fill="#f8e8ca" stroke="#fff" stroke-width="0.2"/>
<rect x="214.60" y="311.00" width="13.00" height="10.60" fill="#ffffff" stroke="#fff" stroke-width="0.2"/>
<rect x="227.60" y="311.00" width="13.00" height="10.60" fill="#fbfaff" stroke="#fff" stroke-width="0.2"/>
<rect x="240.60" y="311.00" width="13.00" height="10.60" fill="#bc9cfc" stroke="#fff" stroke-width="0.2"/>
<rect x="253.60" y="311.00" width="13.00" height="10.60" fill="#f7e5c2" stroke="#fff" stroke-width="0.2"/>
<rect x="266.60" y="311.00" width="13.00" height="10.60" fill="#f0e9fe" stroke="#fff" stroke-width="0.2"/>
<rect x="279.60" y="311.00" width="13.00" height="10.60" fill="#f0e9fe" stroke="#fff" stroke-width="0.2"/>
<rect x="292.60" y="311.00" width="13.00" height="10.60" fill="#e5d9fe" stroke="#fff" stroke-width="0.2"/>
<rect x="305.60" y="311.00" width="13.00" height="10.60" fill="#fdf9f0" stroke="#fff" stroke-width="0.2"/>
<rect x="318.60" y="311.00" width="13.00" height="10.60" fill="#d2bdfd" stroke="#fff" stroke-width="0.2"/>
<rect x="331.60" y="311.00" width="13.00" height="10.60" fill="#ece4fe" stroke="#fff" stroke-width="0.2"/>
<rect x="344.60" y="311.00" width="13.00" height="10.60" fill="#fcf6ea" stroke="#fff" stroke-width="0.2"/>
<rect x="357.60" y="311.00" width="13.00" height="10.60" fill="#f4efff" stroke="#fff" stroke-width="0.2"/>
<rect x="370.60" y="311.00" width="13.00" height="10.60" fill="#faefd9" stroke="#fff" stroke-width="0.2"/>
<rect x="383.60" y="311.00" width="13.00" height="10.60" fill="#fdf9f0" stroke="#fff" stroke-width="0.2"/>
<rect x="396.60" y="311.00" width="13.00" height="10.60" fill="#ffffff" stroke="#fff" stroke-width="0.2"/>
<rect x="409.60" y="311.00" width="13.00" height="10.60" fill="#d2bdfd" stroke="#fff" stroke-width="0.2"/>
<rect x="422.60" y="311.00" width="13.00" height="10.60" fill="#dac8fd" stroke="#fff" stroke-width="0.2"/>
<rect x="435.60" y="311.00" width="13.00" height="10.60" fill="#bc9cfc" stroke="#fff" stroke-width="0.2"/>
<rect x="448.60" y="311.00" width="13.00" height="10.60" fill="#fdf9f0" stroke="#fff" stroke-width="0.2"/>
<rect x="461.60" y="311.00" width="13.00" height="10.60" fill="#d2bdfd" stroke="#fff" stroke-width="0.2"/>
<rect x="474.60" y="311.00" width="13.00" height="10.60" fill="#f8f4ff" stroke="#fff" stroke-width="0.2"/>
<rect x="487.60" y="311.00" width="13.00" height="10.60" fill="#fefcf9" stroke="#fff" stroke-width="0.2"/>
<rect x="500.60" y="311.00" width="13.00" height="10.60" fill="#c4a7fc" stroke="#fff" stroke-width="0.2"/>
<rect x="513.60" y="311.00" width="13.00" height="10.60" fill="#e5d9fe" stroke="#fff" stroke-width="0.2"/>
<rect x="526.60" y="311.00" width="13.00" height="10.60" fill="#f4efff" stroke="#fff" stroke-width="0.2"/>
<rect x="539.60" y="311.00" width="13.00" height="10.60" fill="#c4a7fc" stroke="#fff" stroke-width="0.2"/>
<rect x="552.60" y="311.00" width="13.00" height="10.60" fill="#c7adfd" stroke="#fff" stroke-width="0.2"/>
<rect x="565.60" y="311.00" width="13.00" height="10.60" fill="#cbb2fd" stroke="#fff" stroke-width="0.2"/>
<rect x="578.60" y="311.00" width="13.00" height="10.60" fill="#fbf2e1" stroke="#fff" stroke-width="0.2"/>
<rect x="591.60" y="311.00" width="13.00" height="10.60" fill="#e5d9fe" stroke="#fff" stroke-width="0.2"/>
<rect x="58.60" y="321.60" width="13.00" height="10.60" fill="#fcf6ea" stroke="#fff" stroke-width="0.2"/>
<rect x="71.60" y="321.60" width="13.00" height="10.60" fill="#faefd9" stroke="#fff" stroke-width="0.2"/>
<rect x="84.60" y="321.60" width="13.00" height="10.60" fill="#f0e9fe" stroke="#fff" stroke-width="0.2"/>
<rect x="97.60" y="321.60" width="13.00" height="10.60" fill="#bc9cfc" stroke="#fff" stroke-width="0.2"/>
<rect x="110.60" y="321.60" width="13.00" height="10.60" fill="#ebc06a" stroke="#fff" stroke-width="0.2"/>
<rect x="123.60" y="321.60" width="13.00" height="10.60" fill="#dac8fd" stroke="#fff" stroke-width="0.2"/>
<rect x="136.60" y="321.60" width="13.00" height="10.60" fill="#f8f4ff" stroke="#fff" stroke-width="0.2"/>
<rect x="149.60" y="321.60" width="13.00" height="10.60" fill="#f8e8ca" stroke="#fff" stroke-width="0.2"/>
<rect x="162.60" y="321.60" width="13.00" height="10.60" fill="#f7e5c2" stroke="#fff" stroke-width="0.2"/>
<rect x="175.60" y="321.60" width="13.00" height="10.60" fill="#faefd9" stroke="#fff" stroke-width="0.2"/>
<rect x="188.60" y="321.60" width="13.00" height="10.60" fill="#f9ecd1" stroke="#fff" stroke-width="0.2"/>
<rect x="201.60" y="321.60" width="13.00" height="10.60" fill="#fdf9f0" stroke="#fff" stroke-width="0.2"/>
<rect x="214.60" y="321.60" width="13.00" height="10.60" fill="#f3d9a6" stroke="#fff" stroke-width="0.2"/>
<rect x="227.60" y="321.60" width="13.00" height="10.60" fill="#f0e9fe" stroke="#fff" stroke-width="0.2"/>
<rect x="240.60" y="321.60" width="13.00" height="10.60" fill="#fefcf9" stroke="#fff" stroke-width="0.2"/>
<rect x="253.60" y="321.60" width="13.00" height="10.60" fill="#ffffff" stroke="#fff" stroke-width="0.2"/>
<rect x="266.60" y="321.60" width="13.00" height="10.60" fill="#fefcf9" stroke="#fff" stroke-width="0.2"/>
<rect x="279.60" y="321.60" width="13.00" height="10.60" fill="#fdf9f0" stroke="#fff" stroke-width="0.2"/>
<rect x="292.60" y="321.60" width="13.00" height="10.60" fill="#fcf6ea" stroke="#fff" stroke-width="0.2"/>
<rect x="305.60" y="321.60" width="13.00" height="10.60" fill="#faefd9" stroke="#fff" stroke-width="0.2"/>
<rect x="318.60" y="321.60" width="13.00" height="10.60" fill="#f9ecd1" stroke="#fff" stroke-width="0.2"/>
<rect x="331.60" y="321.60" width="13.00" height="10.60" fill="#f8e8ca" stroke="#fff" stroke-width="0.2"/>
<rect x="344.60" y="321.60" width="13.00" height="10.60" fill="#dac8fd" stroke="#fff" stroke-width="0.2"/>
<rect x="357.60" y="321.60" width="13.00" height="10.60" fill="#fbf2e1" stroke="#fff" stroke-width="0.2"/>
<rect x="370.60" y="321.60" width="13.00" height="10.60" fill="#efcb85" stroke="#fff" stroke-width="0.2"/>
<rect x="383.60" y="321.60" width="13.00" height="10.60" fill="#fcf6ea" stroke="#fff" stroke-width="0.2"/>
<rect x="396.60" y="321.60" width="13.00" height="10.60" fill="#f7e5c2" stroke="#fff" stroke-width="0.2"/>
<rect x="409.60" y="321.60" width="13.00" height="10.60" fill="#ffffff" stroke="#fff" stroke-width="0.2"/>
<rect x="422.60" y="321.60" width="13.00" height="10.60" fill="#f8f4ff" stroke="#fff" stroke-width="0.2"/>
<rect x="435.60" y="321.60" width="13.00" height="10.60" fill="#fcf6ea" stroke="#fff" stroke-width="0.2"/>
<rect x="448.60" y="321.60" width="13.00" height="10.60" fill="#dac8fd" stroke="#fff" stroke-width="0.2"/>
<rect x="461.60" y="321.60" width="13.00" height="10.60" fill="#fbf2e1" stroke="#fff" stroke-width="0.2"/>
<rect x="474.60" y="321.60" width="13.00" height="10.60" fill="#ffffff" stroke="#fff" stroke-width="0.2"/>
<rect x="487.60" y="321.60" width="13.00" height="10.60" fill="#ffffff" stroke="#fff" stroke-width="0.2"/>
<rect x="500.60" y="321.60" width="13.00" height="10.60" fill="#f8f4ff" stroke="#fff" stroke-width="0.2"/>
<rect x="513.60" y="321.60" width="13.00" height="10.60" fill="#f9ecd1" stroke="#fff" stroke-width="0.2"/>
<rect x="526.60" y="321.60" width="13.00" height="10.60" fill="#fdf9f0" stroke="#fff" stroke-width="0.2"/>
<rect x="539.60" y="321.60" width="13.00" height="10.60" fill="#fefcf9" stroke="#fff" stroke-width="0.2"/>
<rect x="552.60" y="321.60" width="13.00" height="10.60" fill="#f2d499" stroke="#fff" stroke-width="0.2"/>
<rect x="565.60" y="321.60" width="13.00" height="10.60" fill="#f8e8ca" stroke="#fff" stroke-width="0.2"/>
<rect x="578.60" y="321.60" width="13.00" height="10.60" fill="#f9ecd1" stroke="#fff" stroke-width="0.2"/>
<rect x="591.60" y="321.60" width="13.00" height="10.60" fill="#fefcf9" stroke="#fff" stroke-width="0.2"/>
<line x1="54.6" x2="57.7" y1="273.90" y2="273.90" stroke="#333" stroke-width="0.9"/>
<text x="53.6" y="277.00" font-size="8.8" text-anchor="end" fill="#1a1a1a">Liver fat %</text>
<circle cx="208.10" cy="284.50" r="2.0" fill="#000"/>
<circle cx="234.10" cy="284.50" r="2.0" fill="#000"/>
<circle cx="260.10" cy="284.50" r="2.0" fill="#000"/>
<circle cx="364.10" cy="284.50" r="2.0" fill="#000"/>
<circle cx="481.10" cy="284.50" r="1.65" fill="none" stroke="#333" stroke-width="0.8"/>
<line x1="54.6" x2="57.7" y1="284.50" y2="284.50" stroke="#333" stroke-width="0.9"/>
<text x="53.6" y="287.60" font-size="8.8" text-anchor="end" fill="#1a1a1a">ALT</text>
<circle cx="208.10" cy="295.10" r="1.65" fill="none" stroke="#333" stroke-width="0.8"/>
<circle cx="234.10" cy="295.10" r="1.65" fill="none" stroke="#333" stroke-width="0.8"/>
<circle cx="312.10" cy="295.10" r="1.65" fill="none" stroke="#333" stroke-width="0.8"/>
<circle cx="364.10" cy="295.10" r="1.65" fill="none" stroke="#333" stroke-width="0.8"/>
<circle cx="377.10" cy="295.10" r="1.65" fill="none" stroke="#333" stroke-width="0.8"/>
<circle cx="481.10" cy="295.10" r="1.65" fill="none" stroke="#333" stroke-width="0.8"/>
<line x1="54.6" x2="57.7" y1="295.10" y2="295.10" stroke="#333" stroke-width="0.9"/>
<text x="53.6" y="298.20" font-size="8.8" text-anchor="end" fill="#1a1a1a">AST</text>
<circle cx="208.10" cy="305.70" r="1.65" fill="none" stroke="#333" stroke-width="0.8"/>
<circle cx="234.10" cy="305.70" r="1.65" fill="none" stroke="#333" stroke-width="0.8"/>
<circle cx="429.10" cy="305.70" r="1.65" fill="none" stroke="#333" stroke-width="0.8"/>
<circle cx="481.10" cy="305.70" r="1.65" fill="none" stroke="#333" stroke-width="0.8"/>
<circle cx="494.10" cy="305.70" r="1.65" fill="none" stroke="#333" stroke-width="0.8"/>
<circle cx="585.10" cy="305.70" r="1.65" fill="none" stroke="#333" stroke-width="0.8"/>
<line x1="54.6" x2="57.7" y1="305.70" y2="305.70" stroke="#333" stroke-width="0.9"/>
<text x="53.6" y="308.80" font-size="8.8" text-anchor="end" fill="#1a1a1a">GGT</text>
<circle cx="65.10" cy="316.30" r="1.65" fill="none" stroke="#333" stroke-width="0.8"/>
<circle cx="169.10" cy="316.30" r="1.65" fill="none" stroke="#333" stroke-width="0.8"/>
<circle cx="247.10" cy="316.30" r="1.65" fill="none" stroke="#333" stroke-width="0.8"/>
<circle cx="260.10" cy="316.30" r="1.65" fill="none" stroke="#333" stroke-width="0.8"/>
<circle cx="416.10" cy="316.30" r="1.65" fill="none" stroke="#333" stroke-width="0.8"/>
<circle cx="442.10" cy="316.30" r="1.65" fill="none" stroke="#333" stroke-width="0.8"/>
<circle cx="507.10" cy="316.30" r="1.65" fill="none" stroke="#333" stroke-width="0.8"/>
<circle cx="546.10" cy="316.30" r="1.65" fill="none" stroke="#333" stroke-width="0.8"/>
<circle cx="559.10" cy="316.30" r="1.65" fill="none" stroke="#333" stroke-width="0.8"/>
<circle cx="572.10" cy="316.30" r="1.65" fill="none" stroke="#333" stroke-width="0.8"/>
<line x1="54.6" x2="57.7" y1="316.30" y2="316.30" stroke="#333" stroke-width="0.9"/>
<text x="53.6" y="319.40" font-size="8.8" text-anchor="end" fill="#1a1a1a">LDH</text>
<circle cx="104.10" cy="326.90" r="1.65" fill="none" stroke="#333" stroke-width="0.8"/>
<circle cx="117.10" cy="326.90" r="2.0" fill="#000"/>
<circle cx="169.10" cy="326.90" r="1.65" fill="none" stroke="#333" stroke-width="0.8"/>
<circle cx="221.10" cy="326.90" r="1.65" fill="none" stroke="#333" stroke-width="0.8"/>
<circle cx="377.10" cy="326.90" r="2.0" fill="#000"/>
<circle cx="403.10" cy="326.90" r="1.65" fill="none" stroke="#333" stroke-width="0.8"/>
<circle cx="559.10" cy="326.90" r="1.65" fill="none" stroke="#333" stroke-width="0.8"/>
<line x1="54.6" x2="57.7" y1="326.90" y2="326.90" stroke="#333" stroke-width="0.9"/>
<text x="53.6" y="330.00" font-size="8.8" text-anchor="end" fill="#1a1a1a">Bilirubin</text>
<rect x="57.7" y="267.8" width="547.70" height="65.20" fill="none" stroke="#999" stroke-width="1"/>
<rect x="58.60" y="338.20" width="13.00" height="10.58" fill="#fdf9f0" stroke="#fff" stroke-width="0.2"/>
<rect x="71.60" y="338.20" width="13.00" height="10.58" fill="#f0e9fe" stroke="#fff" stroke-width="0.2"/>
<rect x="84.60" y="338.20" width="13.00" height="10.58" fill="#f4efff" stroke="#fff" stroke-width="0.2"/>
<rect x="97.60" y="338.20" width="13.00" height="10.58" fill="#fcf6ea" stroke="#fff" stroke-width="0.2"/>
<rect x="110.60" y="338.20" width="13.00" height="10.58" fill="#e1d3fe" stroke="#fff" stroke-width="0.2"/>
<rect x="123.60" y="338.20" width="13.00" height="10.58" fill="#f4efff" stroke="#fff" stroke-width="0.2"/>
<rect x="136.60" y="338.20" width="13.00" height="10.58" fill="#e9defe" stroke="#fff" stroke-width="0.2"/>
<rect x="149.60" y="338.20" width="13.00" height="10.58" fill="#f8f4ff" stroke="#fff" stroke-width="0.2"/>
<rect x="162.60" y="338.20" width="13.00" height="10.58" fill="#f4efff" stroke="#fff" stroke-width="0.2"/>
<rect x="175.60" y="338.20" width="13.00" height="10.58" fill="#dac8fd" stroke="#fff" stroke-width="0.2"/>
<rect x="188.60" y="338.20" width="13.00" height="10.58" fill="#fcf6ea" stroke="#fff" stroke-width="0.2"/>
<rect x="201.60" y="338.20" width="13.00" height="10.58" fill="#d2bdfd" stroke="#fff" stroke-width="0.2"/>
<rect x="214.60" y="338.20" width="13.00" height="10.58" fill="#ffffff" stroke="#fff" stroke-width="0.2"/>
<rect x="227.60" y="338.20" width="13.00" height="10.58" fill="#d2bdfd" stroke="#fff" stroke-width="0.2"/>
<rect x="240.60" y="338.20" width="13.00" height="10.58" fill="#f4efff" stroke="#fff" stroke-width="0.2"/>
<rect x="253.60" y="338.20" width="13.00" height="10.58" fill="#d2bdfd" stroke="#fff" stroke-width="0.2"/>
<rect x="266.60" y="338.20" width="13.00" height="10.58" fill="#e1d3fe" stroke="#fff" stroke-width="0.2"/>
<rect x="279.60" y="338.20" width="13.00" height="10.58" fill="#f7e5c2" stroke="#fff" stroke-width="0.2"/>
<rect x="292.60" y="338.20" width="13.00" height="10.58" fill="#f0e9fe" stroke="#fff" stroke-width="0.2"/>
<rect x="305.60" y="338.20" width="13.00" height="10.58" fill="#fdf9f0" stroke="#fff" stroke-width="0.2"/>
<rect x="318.60" y="338.20" width="13.00" height="10.58" fill="#f0e9fe" stroke="#fff" stroke-width="0.2"/>
<rect x="331.60" y="338.20" width="13.00" height="10.58" fill="#f0e9fe" stroke="#fff" stroke-width="0.2"/>
<rect x="344.60" y="338.20" width="13.00" height="10.58" fill="#f8f4ff" stroke="#fff" stroke-width="0.2"/>
<rect x="357.60" y="338.20" width="13.00" height="10.58" fill="#d2bdfd" stroke="#fff" stroke-width="0.2"/>
<rect x="370.60" y="338.20" width="13.00" height="10.58" fill="#ffffff" stroke="#fff" stroke-width="0.2"/>
<rect x="383.60" y="338.20" width="13.00" height="10.58" fill="#e9defe" stroke="#fff" stroke-width="0.2"/>
<rect x="396.60" y="338.20" width="13.00" height="10.58" fill="#fdf9f0" stroke="#fff" stroke-width="0.2"/>
<rect x="409.60" y="338.20" width="13.00" height="10.58" fill="#f0e9fe" stroke="#fff" stroke-width="0.2"/>
<rect x="422.60" y="338.20" width="13.00" height="10.58" fill="#f0e9fe" stroke="#fff" stroke-width="0.2"/>
<rect x="435.60" y="338.20" width="13.00" height="10.58" fill="#fefcf9" stroke="#fff" stroke-width="0.2"/>
<rect x="448.60" y="338.20" width="13.00" height="10.58" fill="#dac8fd" stroke="#fff" stroke-width="0.2"/>
<rect x="461.60" y="338.20" width="13.00" height="10.58" fill="#f4efff" stroke="#fff" stroke-width="0.2"/>
<rect x="474.60" y="338.20" width="13.00" height="10.58" fill="#cbb2fd" stroke="#fff" stroke-width="0.2"/>
<rect x="487.60" y="338.20" width="13.00" height="10.58" fill="#dac8fd" stroke="#fff" stroke-width="0.2"/>
<rect x="500.60" y="338.20" width="13.00" height="10.58" fill="#fcf6ea" stroke="#fff" stroke-width="0.2"/>
<rect x="513.60" y="338.20" width="13.00" height="10.58" fill="#f8f4ff" stroke="#fff" stroke-width="0.2"/>
<rect x="526.60" y="338.20" width="13.00" height="10.58" fill="#e1d3fe" stroke="#fff" stroke-width="0.2"/>
<rect x="539.60" y="338.20" width="13.00" height="10.58" fill="#fdf9f0" stroke="#fff" stroke-width="0.2"/>
<rect x="552.60" y="338.20" width="13.00" height="10.58" fill="#e1d3fe" stroke="#fff" stroke-width="0.2"/>
<rect x="565.60" y="338.20" width="13.00" height="10.58" fill="#fdf9f0" stroke="#fff" stroke-width="0.2"/>
<rect x="578.60" y="338.20" width="13.00" height="10.58" fill="#f8f4ff" stroke="#fff" stroke-width="0.2"/>
<rect x="591.60" y="338.20" width="13.00" height="10.58" fill="#e9defe" stroke="#fff" stroke-width="0.2"/>
<rect x="58.60" y="348.77" width="13.00" height="10.58" fill="#fbf2e1" stroke="#fff" stroke-width="0.2"/>
<rect x="71.60" y="348.77" width="13.00" height="10.58" fill="#faefd9" stroke="#fff" stroke-width="0.2"/>
<rect x="84.60" y="348.77" width="13.00" height="10.58" fill="#c7adfd" stroke="#fff" stroke-width="0.2"/>
<rect x="97.60" y="348.77" width="13.00" height="10.58" fill="#f8f4ff" stroke="#fff" stroke-width="0.2"/>
<rect x="110.60" y="348.77" width="13.00" height="10.58" fill="#ffffff" stroke="#fff" stroke-width="0.2"/>
<rect x="123.60" y="348.77" width="13.00" height="10.58" fill="#d2bdfd" stroke="#fff" stroke-width="0.2"/>
<rect x="136.60" y="348.77" width="13.00" height="10.58" fill="#ffffff" stroke="#fff" stroke-width="0.2"/>
<rect x="149.60" y="348.77" width="13.00" height="10.58" fill="#ece4fe" stroke="#fff" stroke-width="0.2"/>
<rect x="162.60" y="348.77" width="13.00" height="10.58" fill="#f8f4ff" stroke="#fff" stroke-width="0.2"/>
<rect x="175.60" y="348.77" width="13.00" height="10.58" fill="#c0a2fc" stroke="#fff" stroke-width="0.2"/>
<rect x="188.60" y="348.77" width="13.00" height="10.58" fill="#f0e9fe" stroke="#fff" stroke-width="0.2"/>
<rect x="201.60" y="348.77" width="13.00" height="10.58" fill="#d2bdfd" stroke="#fff" stroke-width="0.2"/>
<rect x="214.60" y="348.77" width="13.00" height="10.58" fill="#ad86fb" stroke="#fff" stroke-width="0.2"/>
<rect x="227.60" y="348.77" width="13.00" height="10.58" fill="#cfb8fd" stroke="#fff" stroke-width="0.2"/>
<rect x="240.60" y="348.77" width="13.00" height="10.58" fill="#e1d3fe" stroke="#fff" stroke-width="0.2"/>
<rect x="253.60" y="348.77" width="13.00" height="10.58" fill="#e9defe" stroke="#fff" stroke-width="0.2"/>
<rect x="266.60" y="348.77" width="13.00" height="10.58" fill="#faefd9" stroke="#fff" stroke-width="0.2"/>
<rect x="279.60" y="348.77" width="13.00" height="10.58" fill="#fcf6ea" stroke="#fff" stroke-width="0.2"/>
<rect x="292.60" y="348.77" width="13.00" height="10.58" fill="#dac8fd" stroke="#fff" stroke-width="0.2"/>
<rect x="305.60" y="348.77" width="13.00" height="10.58" fill="#dac8fd" stroke="#fff" stroke-width="0.2"/>
<rect x="318.60" y="348.77" width="13.00" height="10.58" fill="#ece4fe" stroke="#fff" stroke-width="0.2"/>
<rect x="331.60" y="348.77" width="13.00" height="10.58" fill="#d2bdfd" stroke="#fff" stroke-width="0.2"/>
<rect x="344.60" y="348.77" width="13.00" height="10.58" fill="#f4efff" stroke="#fff" stroke-width="0.2"/>
<rect x="357.60" y="348.77" width="13.00" height="10.58" fill="#e5d9fe" stroke="#fff" stroke-width="0.2"/>
<rect x="370.60" y="348.77" width="13.00" height="10.58" fill="#e5d9fe" stroke="#fff" stroke-width="0.2"/>
<rect x="383.60" y="348.77" width="13.00" height="10.58" fill="#e1d3fe" stroke="#fff" stroke-width="0.2"/>
<rect x="396.60" y="348.77" width="13.00" height="10.58" fill="#dac8fd" stroke="#fff" stroke-width="0.2"/>
<rect x="409.60" y="348.77" width="13.00" height="10.58" fill="#dac8fd" stroke="#fff" stroke-width="0.2"/>
<rect x="422.60" y="348.77" width="13.00" height="10.58" fill="#dac8fd" stroke="#fff" stroke-width="0.2"/>
<rect x="435.60" y="348.77" width="13.00" height="10.58" fill="#e1d3fe" stroke="#fff" stroke-width="0.2"/>
<rect x="448.60" y="348.77" width="13.00" height="10.58" fill="#e9defe" stroke="#fff" stroke-width="0.2"/>
<rect x="461.60" y="348.77" width="13.00" height="10.58" fill="#f8f4ff" stroke="#fff" stroke-width="0.2"/>
<rect x="474.60" y="348.77" width="13.00" height="10.58" fill="#cbb2fd" stroke="#fff" stroke-width="0.2"/>
<rect x="487.60" y="348.77" width="13.00" height="10.58" fill="#c7adfd" stroke="#fff" stroke-width="0.2"/>
<rect x="500.60" y="348.77" width="13.00" height="10.58" fill="#fbf2e1" stroke="#fff" stroke-width="0.2"/>
<rect x="513.60" y="348.77" width="13.00" height="10.58" fill="#f0e9fe" stroke="#fff" stroke-width="0.2"/>
<rect x="526.60" y="348.77" width="13.00" height="10.58" fill="#d2bdfd" stroke="#fff" stroke-width="0.2"/>
<rect x="539.60" y="348.77" width="13.00" height="10.58" fill="#fbf2e1" stroke="#fff" stroke-width="0.2"/>
<rect x="552.60" y="348.77" width="13.00" height="10.58" fill="#fefcf9" stroke="#fff" stroke-width="0.2"/>
<rect x="565.60" y="348.77" width="13.00" height="10.58" fill="#f0e9fe" stroke="#fff" stroke-width="0.2"/>
<rect x="578.60" y="348.77" width="13.00" height="10.58" fill="#d2bdfd" stroke="#fff" stroke-width="0.2"/>
<rect x="591.60" y="348.77" width="13.00" height="10.58" fill="#f4efff" stroke="#fff" stroke-width="0.2"/>
<rect x="58.60" y="359.35" width="13.00" height="10.58" fill="#f8e8ca" stroke="#fff" stroke-width="0.2"/>
<rect x="71.60" y="359.35" width="13.00" height="10.58" fill="#f9ecd1" stroke="#fff" stroke-width="0.2"/>
<rect x="84.60" y="359.35" width="13.00" height="10.58" fill="#e1d3fe" stroke="#fff" stroke-width="0.2"/>
<rect x="97.60" y="359.35" width="13.00" height="10.58" fill="#fbf2e1" stroke="#fff" stroke-width="0.2"/>
<rect x="110.60" y="359.35" width="13.00" height="10.58" fill="#f8f4ff" stroke="#fff" stroke-width="0.2"/>
<rect x="123.60" y="359.35" width="13.00" height="10.58" fill="#ece4fe" stroke="#fff" stroke-width="0.2"/>
<rect x="136.60" y="359.35" width="13.00" height="10.58" fill="#fdf9f0" stroke="#fff" stroke-width="0.2"/>
<rect x="149.60" y="359.35" width="13.00" height="10.58" fill="#f8f4ff" stroke="#fff" stroke-width="0.2"/>
<rect x="162.60" y="359.35" width="13.00" height="10.58" fill="#fdf9f0" stroke="#fff" stroke-width="0.2"/>
<rect x="175.60" y="359.35" width="13.00" height="10.58" fill="#c0a2fc" stroke="#fff" stroke-width="0.2"/>
<rect x="188.60" y="359.35" width="13.00" height="10.58" fill="#fdf9f0" stroke="#fff" stroke-width="0.2"/>
<rect x="201.60" y="359.35" width="13.00" height="10.58" fill="#d2bdfd" stroke="#fff" stroke-width="0.2"/>
<rect x="214.60" y="359.35" width="13.00" height="10.58" fill="#b591fc" stroke="#fff" stroke-width="0.2"/>
<rect x="227.60" y="359.35" width="13.00" height="10.58" fill="#cbb2fd" stroke="#fff" stroke-width="0.2"/>
<rect x="240.60" y="359.35" width="13.00" height="10.58" fill="#ece4fe" stroke="#fff" stroke-width="0.2"/>
<rect x="253.60" y="359.35" width="13.00" height="10.58" fill="#decefe" stroke="#fff" stroke-width="0.2"/>
<rect x="266.60" y="359.35" width="13.00" height="10.58" fill="#faefd9" stroke="#fff" stroke-width="0.2"/>
<rect x="279.60" y="359.35" width="13.00" height="10.58" fill="#faefd9" stroke="#fff" stroke-width="0.2"/>
<rect x="292.60" y="359.35" width="13.00" height="10.58" fill="#d2bdfd" stroke="#fff" stroke-width="0.2"/>
<rect x="305.60" y="359.35" width="13.00" height="10.58" fill="#ece4fe" stroke="#fff" stroke-width="0.2"/>
<rect x="318.60" y="359.35" width="13.00" height="10.58" fill="#fefcf9" stroke="#fff" stroke-width="0.2"/>
<rect x="331.60" y="359.35" width="13.00" height="10.58" fill="#e5d9fe" stroke="#fff" stroke-width="0.2"/>
<rect x="344.60" y="359.35" width="13.00" height="10.58" fill="#ece4fe" stroke="#fff" stroke-width="0.2"/>
<rect x="357.60" y="359.35" width="13.00" height="10.58" fill="#e5d9fe" stroke="#fff" stroke-width="0.2"/>
<rect x="370.60" y="359.35" width="13.00" height="10.58" fill="#e5d9fe" stroke="#fff" stroke-width="0.2"/>
<rect x="383.60" y="359.35" width="13.00" height="10.58" fill="#d2bdfd" stroke="#fff" stroke-width="0.2"/>
<rect x="396.60" y="359.35" width="13.00" height="10.58" fill="#e5d9fe" stroke="#fff" stroke-width="0.2"/>
<rect x="409.60" y="359.35" width="13.00" height="10.58" fill="#e5d9fe" stroke="#fff" stroke-width="0.2"/>
<rect x="422.60" y="359.35" width="13.00" height="10.58" fill="#e1d3fe" stroke="#fff" stroke-width="0.2"/>
<rect x="435.60" y="359.35" width="13.00" height="10.58" fill="#f8f4ff" stroke="#fff" stroke-width="0.2"/>
<rect x="448.60" y="359.35" width="13.00" height="10.58" fill="#e1d3fe" stroke="#fff" stroke-width="0.2"/>
<rect x="461.60" y="359.35" width="13.00" height="10.58" fill="#ffffff" stroke="#fff" stroke-width="0.2"/>
<rect x="474.60" y="359.35" width="13.00" height="10.58" fill="#cbb2fd" stroke="#fff" stroke-width="0.2"/>
<rect x="487.60" y="359.35" width="13.00" height="10.58" fill="#bc9cfc" stroke="#fff" stroke-width="0.2"/>
<rect x="500.60" y="359.35" width="13.00" height="10.58" fill="#f8e8ca" stroke="#fff" stroke-width="0.2"/>
<rect x="513.60" y="359.35" width="13.00" height="10.58" fill="#ffffff" stroke="#fff" stroke-width="0.2"/>
<rect x="526.60" y="359.35" width="13.00" height="10.58" fill="#dac8fd" stroke="#fff" stroke-width="0.2"/>
<rect x="539.60" y="359.35" width="13.00" height="10.58" fill="#f7e5c2" stroke="#fff" stroke-width="0.2"/>
<rect x="552.60" y="359.35" width="13.00" height="10.58" fill="#fdf9f0" stroke="#fff" stroke-width="0.2"/>
<rect x="565.60" y="359.35" width="13.00" height="10.58" fill="#fdf9f0" stroke="#fff" stroke-width="0.2"/>
<rect x="578.60" y="359.35" width="13.00" height="10.58" fill="#d2bdfd" stroke="#fff" stroke-width="0.2"/>
<rect x="591.60" y="359.35" width="13.00" height="10.58" fill="#fcf6ea" stroke="#fff" stroke-width="0.2"/>
<rect x="58.60" y="369.93" width="13.00" height="10.58" fill="#f5dfb2" stroke="#fff" stroke-width="0.2"/>
<rect x="71.60" y="369.93" width="13.00" height="10.58" fill="#f8e8ca" stroke="#fff" stroke-width="0.2"/>
<rect x="84.60" y="369.93" width="13.00" height="10.58" fill="#f5dfb2" stroke="#fff" stroke-width="0.2"/>
<rect x="97.60" y="369.93" width="13.00" height="10.58" fill="#f3d9a6" stroke="#fff" stroke-width="0.2"/>
<rect x="110.60" y="369.93" width="13.00" height="10.58" fill="#f9ecd1" stroke="#fff" stroke-width="0.2"/>
<rect x="123.60" y="369.93" width="13.00" height="10.58" fill="#f2d499" stroke="#fff" stroke-width="0.2"/>
<rect x="136.60" y="369.93" width="13.00" height="10.58" fill="#f5dfb2" stroke="#fff" stroke-width="0.2"/>
<rect x="149.60" y="369.93" width="13.00" height="10.58" fill="#f8e8ca" stroke="#fff" stroke-width="0.2"/>
<rect x="162.60" y="369.93" width="13.00" height="10.58" fill="#f3d9a6" stroke="#fff" stroke-width="0.2"/>
<rect x="175.60" y="369.93" width="13.00" height="10.58" fill="#f9ecd1" stroke="#fff" stroke-width="0.2"/>
<rect x="188.60" y="369.93" width="13.00" height="10.58" fill="#f7e5c2" stroke="#fff" stroke-width="0.2"/>
<rect x="201.60" y="369.93" width="13.00" height="10.58" fill="#faefd9" stroke="#fff" stroke-width="0.2"/>
<rect x="214.60" y="369.93" width="13.00" height="10.58" fill="#f4efff" stroke="#fff" stroke-width="0.2"/>
<rect x="227.60" y="369.93" width="13.00" height="10.58" fill="#fbf2e1" stroke="#fff" stroke-width="0.2"/>
<rect x="240.60" y="369.93" width="13.00" height="10.58" fill="#f7e5c2" stroke="#fff" stroke-width="0.2"/>
<rect x="253.60" y="369.93" width="13.00" height="10.58" fill="#fdf9f0" stroke="#fff" stroke-width="0.2"/>
<rect x="266.60" y="369.93" width="13.00" height="10.58" fill="#f7e5c2" stroke="#fff" stroke-width="0.2"/>
<rect x="279.60" y="369.93" width="13.00" height="10.58" fill="#fbfaff" stroke="#fff" stroke-width="0.2"/>
<rect x="292.60" y="369.93" width="13.00" height="10.58" fill="#f8f4ff" stroke="#fff" stroke-width="0.2"/>
<rect x="305.60" y="369.93" width="13.00" height="10.58" fill="#f8e8ca" stroke="#fff" stroke-width="0.2"/>
<rect x="318.60" y="369.93" width="13.00" height="10.58" fill="#f3d9a6" stroke="#fff" stroke-width="0.2"/>
<rect x="331.60" y="369.93" width="13.00" height="10.58" fill="#f5dfb2" stroke="#fff" stroke-width="0.2"/>
<rect x="344.60" y="369.93" width="13.00" height="10.58" fill="#fefcf9" stroke="#fff" stroke-width="0.2"/>
<rect x="357.60" y="369.93" width="13.00" height="10.58" fill="#f7e5c2" stroke="#fff" stroke-width="0.2"/>
<rect x="370.60" y="369.93" width="13.00" height="10.58" fill="#f8f4ff" stroke="#fff" stroke-width="0.2"/>
<rect x="383.60" y="369.93" width="13.00" height="10.58" fill="#f0e9fe" stroke="#fff" stroke-width="0.2"/>
<rect x="396.60" y="369.93" width="13.00" height="10.58" fill="#fcf6ea" stroke="#fff" stroke-width="0.2"/>
<rect x="409.60" y="369.93" width="13.00" height="10.58" fill="#f3d9a6" stroke="#fff" stroke-width="0.2"/>
<rect x="422.60" y="369.93" width="13.00" height="10.58" fill="#f7e5c2" stroke="#fff" stroke-width="0.2"/>
<rect x="435.60" y="369.93" width="13.00" height="10.58" fill="#f2d499" stroke="#fff" stroke-width="0.2"/>
<rect x="448.60" y="369.93" width="13.00" height="10.58" fill="#ffffff" stroke="#fff" stroke-width="0.2"/>
<rect x="461.60" y="369.93" width="13.00" height="10.58" fill="#fcf6ea" stroke="#fff" stroke-width="0.2"/>
<rect x="474.60" y="369.93" width="13.00" height="10.58" fill="#faefd9" stroke="#fff" stroke-width="0.2"/>
<rect x="487.60" y="369.93" width="13.00" height="10.58" fill="#f8f4ff" stroke="#fff" stroke-width="0.2"/>
<rect x="500.60" y="369.93" width="13.00" height="10.58" fill="#faefd9" stroke="#fff" stroke-width="0.2"/>
<rect x="513.60" y="369.93" width="13.00" height="10.58" fill="#f9ecd1" stroke="#fff" stroke-width="0.2"/>
<rect x="526.60" y="369.93" width="13.00" height="10.58" fill="#f9ecd1" stroke="#fff" stroke-width="0.2"/>
<rect x="539.60" y="369.93" width="13.00" height="10.58" fill="#f5dfb2" stroke="#fff" stroke-width="0.2"/>
<rect x="552.60" y="369.93" width="13.00" height="10.58" fill="#fbf2e1" stroke="#fff" stroke-width="0.2"/>
<rect x="565.60" y="369.93" width="13.00" height="10.58" fill="#f7e5c2" stroke="#fff" stroke-width="0.2"/>
<rect x="578.60" y="369.93" width="13.00" height="10.58" fill="#fdf9f0" stroke="#fff" stroke-width="0.2"/>
<rect x="591.60" y="369.93" width="13.00" height="10.58" fill="#f3d9a6" stroke="#fff" stroke-width="0.2"/>
<circle cx="208.10" cy="343.49" r="1.65" fill="none" stroke="#333" stroke-width="0.8"/>
<circle cx="234.10" cy="343.49" r="1.65" fill="none" stroke="#333" stroke-width="0.8"/>
<circle cx="260.10" cy="343.49" r="1.65" fill="none" stroke="#333" stroke-width="0.8"/>
<circle cx="286.10" cy="343.49" r="1.65" fill="none" stroke="#333" stroke-width="0.8"/>
<circle cx="364.10" cy="343.49" r="1.65" fill="none" stroke="#333" stroke-width="0.8"/>
<circle cx="481.10" cy="343.49" r="1.65" fill="none" stroke="#333" stroke-width="0.8"/>
<circle cx="494.10" cy="343.49" r="1.65" fill="none" stroke="#333" stroke-width="0.8"/>
<line x1="54.6" x2="57.7" y1="343.49" y2="343.49" stroke="#333" stroke-width="0.9"/>
<text x="53.6" y="346.59" font-size="8.8" text-anchor="end" fill="#1a1a1a">HDL-C</text>
<circle cx="91.10" cy="354.06" r="1.65" fill="none" stroke="#333" stroke-width="0.8"/>
<circle cx="182.10" cy="354.06" r="1.65" fill="none" stroke="#333" stroke-width="0.8"/>
<circle cx="208.10" cy="354.06" r="1.65" fill="none" stroke="#333" stroke-width="0.8"/>
<circle cx="221.10" cy="354.06" r="2.0" fill="#000"/>
<circle cx="234.10" cy="354.06" r="1.65" fill="none" stroke="#333" stroke-width="0.8"/>
<circle cx="338.10" cy="354.06" r="1.65" fill="none" stroke="#333" stroke-width="0.8"/>
<circle cx="403.10" cy="354.06" r="1.65" fill="none" stroke="#333" stroke-width="0.8"/>
<circle cx="416.10" cy="354.06" r="1.65" fill="none" stroke="#333" stroke-width="0.8"/>
<circle cx="429.10" cy="354.06" r="1.65" fill="none" stroke="#333" stroke-width="0.8"/>
<circle cx="481.10" cy="354.06" r="1.65" fill="none" stroke="#333" stroke-width="0.8"/>
<circle cx="494.10" cy="354.06" r="1.65" fill="none" stroke="#333" stroke-width="0.8"/>
<circle cx="533.10" cy="354.06" r="1.65" fill="none" stroke="#333" stroke-width="0.8"/>
<circle cx="585.10" cy="354.06" r="1.65" fill="none" stroke="#333" stroke-width="0.8"/>
<line x1="54.6" x2="57.7" y1="354.06" y2="354.06" stroke="#333" stroke-width="0.9"/>
<text x="53.6" y="357.16" font-size="8.8" text-anchor="end" fill="#1a1a1a">LDL-C</text>
<circle cx="182.10" cy="364.64" r="1.65" fill="none" stroke="#333" stroke-width="0.8"/>
<circle cx="208.10" cy="364.64" r="1.65" fill="none" stroke="#333" stroke-width="0.8"/>
<circle cx="221.10" cy="364.64" r="2.0" fill="#000"/>
<circle cx="234.10" cy="364.64" r="1.65" fill="none" stroke="#333" stroke-width="0.8"/>
<circle cx="299.10" cy="364.64" r="1.65" fill="none" stroke="#333" stroke-width="0.8"/>
<circle cx="390.10" cy="364.64" r="1.65" fill="none" stroke="#333" stroke-width="0.8"/>
<circle cx="481.10" cy="364.64" r="1.65" fill="none" stroke="#333" stroke-width="0.8"/>
<circle cx="494.10" cy="364.64" r="1.65" fill="none" stroke="#333" stroke-width="0.8"/>
<circle cx="585.10" cy="364.64" r="1.65" fill="none" stroke="#333" stroke-width="0.8"/>
<line x1="54.6" x2="57.7" y1="364.64" y2="364.64" stroke="#333" stroke-width="0.9"/>
<text x="53.6" y="367.74" font-size="8.8" text-anchor="end" fill="#1a1a1a">TC</text>
<circle cx="65.10" cy="375.21" r="1.65" fill="none" stroke="#333" stroke-width="0.8"/>
<circle cx="91.10" cy="375.21" r="1.65" fill="none" stroke="#333" stroke-width="0.8"/>
<circle cx="104.10" cy="375.21" r="1.65" fill="none" stroke="#333" stroke-width="0.8"/>
<circle cx="130.10" cy="375.21" r="1.65" fill="none" stroke="#333" stroke-width="0.8"/>
<circle cx="143.10" cy="375.21" r="1.65" fill="none" stroke="#333" stroke-width="0.8"/>
<circle cx="169.10" cy="375.21" r="1.65" fill="none" stroke="#333" stroke-width="0.8"/>
<circle cx="195.10" cy="375.21" r="1.65" fill="none" stroke="#333" stroke-width="0.8"/>
<circle cx="247.10" cy="375.21" r="1.65" fill="none" stroke="#333" stroke-width="0.8"/>
<circle cx="273.10" cy="375.21" r="1.65" fill="none" stroke="#333" stroke-width="0.8"/>
<circle cx="325.10" cy="375.21" r="1.65" fill="none" stroke="#333" stroke-width="0.8"/>
<circle cx="338.10" cy="375.21" r="1.65" fill="none" stroke="#333" stroke-width="0.8"/>
<circle cx="416.10" cy="375.21" r="1.65" fill="none" stroke="#333" stroke-width="0.8"/>
<circle cx="429.10" cy="375.21" r="1.65" fill="none" stroke="#333" stroke-width="0.8"/>
<circle cx="442.10" cy="375.21" r="1.65" fill="none" stroke="#333" stroke-width="0.8"/>
<circle cx="546.10" cy="375.21" r="1.65" fill="none" stroke="#333" stroke-width="0.8"/>
<circle cx="572.10" cy="375.21" r="1.65" fill="none" stroke="#333" stroke-width="0.8"/>
<circle cx="598.10" cy="375.21" r="1.65" fill="none" stroke="#333" stroke-width="0.8"/>
<line x1="54.6" x2="57.7" y1="375.21" y2="375.21" stroke="#333" stroke-width="0.9"/>
<text x="53.6" y="378.31" font-size="8.8" text-anchor="end" fill="#1a1a1a">TG</text>
<rect x="57.7" y="337.4" width="547.70" height="43.90" fill="none" stroke="#999" stroke-width="1"/>
<rect x="58.60" y="386.50" width="13.00" height="10.70" fill="#fdf9f0" stroke="#fff" stroke-width="0.2"/>
<rect x="71.60" y="386.50" width="13.00" height="10.70" fill="#f9ecd1" stroke="#fff" stroke-width="0.2"/>
<rect x="84.60" y="386.50" width="13.00" height="10.70" fill="#ad86fb" stroke="#fff" stroke-width="0.2"/>
<rect x="97.60" y="386.50" width="13.00" height="10.70" fill="#f8f4ff" stroke="#fff" stroke-width="0.2"/>
<rect x="110.60" y="386.50" width="13.00" height="10.70" fill="#f5dfb2" stroke="#fff" stroke-width="0.2"/>
<rect x="123.60" y="386.50" width="13.00" height="10.70" fill="#a276fb" stroke="#fff" stroke-width="0.2"/>
<rect x="136.60" y="386.50" width="13.00" height="10.70" fill="#f8f4ff" stroke="#fff" stroke-width="0.2"/>
<rect x="149.60" y="386.50" width="13.00" height="10.70" fill="#e5d9fe" stroke="#fff" stroke-width="0.2"/>
<rect x="162.60" y="386.50" width="13.00" height="10.70" fill="#e1d3fe" stroke="#fff" stroke-width="0.2"/>
<rect x="175.60" y="386.50" width="13.00" height="10.70" fill="#f0e9fe" stroke="#fff" stroke-width="0.2"/>
<rect x="188.60" y="386.50" width="13.00" height="10.70" fill="#ece4fe" stroke="#fff" stroke-width="0.2"/>
<rect x="201.60" y="386.50" width="13.00" height="10.70" fill="#fdf9f0" stroke="#fff" stroke-width="0.2"/>
<rect x="214.60" y="386.50" width="13.00" height="10.70" fill="#d2bdfd" stroke="#fff" stroke-width="0.2"/>
<rect x="227.60" y="386.50" width="13.00" height="10.70" fill="#dac8fd" stroke="#fff" stroke-width="0.2"/>
<rect x="240.60" y="386.50" width="13.00" height="10.70" fill="#d2bdfd" stroke="#fff" stroke-width="0.2"/>
<rect x="253.60" y="386.50" width="13.00" height="10.70" fill="#fcf6ea" stroke="#fff" stroke-width="0.2"/>
<rect x="266.60" y="386.50" width="13.00" height="10.70" fill="#eabb5d" stroke="#fff" stroke-width="0.2"/>
<rect x="279.60" y="386.50" width="13.00" height="10.70" fill="#f4efff" stroke="#fff" stroke-width="0.2"/>
<rect x="292.60" y="386.50" width="13.00" height="10.70" fill="#fbf2e1" stroke="#fff" stroke-width="0.2"/>
<rect x="305.60" y="386.50" width="13.00" height="10.70" fill="#f8f4ff" stroke="#fff" stroke-width="0.2"/>
<rect x="318.60" y="386.50" width="13.00" height="10.70" fill="#ecc16d" stroke="#fff" stroke-width="0.2"/>
<rect x="331.60" y="386.50" width="13.00" height="10.70" fill="#fefcf9" stroke="#fff" stroke-width="0.2"/>
<rect x="344.60" y="386.50" width="13.00" height="10.70" fill="#faefd9" stroke="#fff" stroke-width="0.2"/>
<rect x="357.60" y="386.50" width="13.00" height="10.70" fill="#f4efff" stroke="#fff" stroke-width="0.2"/>
<rect x="370.60" y="386.50" width="13.00" height="10.70" fill="#dac8fd" stroke="#fff" stroke-width="0.2"/>
<rect x="383.60" y="386.50" width="13.00" height="10.70" fill="#a276fb" stroke="#fff" stroke-width="0.2"/>
<rect x="396.60" y="386.50" width="13.00" height="10.70" fill="#f4efff" stroke="#fff" stroke-width="0.2"/>
<rect x="409.60" y="386.50" width="13.00" height="10.70" fill="#dac8fd" stroke="#fff" stroke-width="0.2"/>
<rect x="422.60" y="386.50" width="13.00" height="10.70" fill="#d2bdfd" stroke="#fff" stroke-width="0.2"/>
<rect x="435.60" y="386.50" width="13.00" height="10.70" fill="#dac8fd" stroke="#fff" stroke-width="0.2"/>
<rect x="448.60" y="386.50" width="13.00" height="10.70" fill="#f2d499" stroke="#fff" stroke-width="0.2"/>
<rect x="461.60" y="386.50" width="13.00" height="10.70" fill="#e5aa36" stroke="#fff" stroke-width="0.2"/>
<rect x="474.60" y="386.50" width="13.00" height="10.70" fill="#f0e9fe" stroke="#fff" stroke-width="0.2"/>
<rect x="487.60" y="386.50" width="13.00" height="10.70" fill="#f0e9fe" stroke="#fff" stroke-width="0.2"/>
<rect x="500.60" y="386.50" width="13.00" height="10.70" fill="#f4efff" stroke="#fff" stroke-width="0.2"/>
<rect x="513.60" y="386.50" width="13.00" height="10.70" fill="#edc474" stroke="#fff" stroke-width="0.2"/>
<rect x="526.60" y="386.50" width="13.00" height="10.70" fill="#a276fb" stroke="#fff" stroke-width="0.2"/>
<rect x="539.60" y="386.50" width="13.00" height="10.70" fill="#f5dfb2" stroke="#fff" stroke-width="0.2"/>
<rect x="552.60" y="386.50" width="13.00" height="10.70" fill="#dac8fd" stroke="#fff" stroke-width="0.2"/>
<rect x="565.60" y="386.50" width="13.00" height="10.70" fill="#e9defe" stroke="#fff" stroke-width="0.2"/>
<rect x="578.60" y="386.50" width="13.00" height="10.70" fill="#d2bdfd" stroke="#fff" stroke-width="0.2"/>
<rect x="591.60" y="386.50" width="13.00" height="10.70" fill="#f9ecd1" stroke="#fff" stroke-width="0.2"/>
<circle cx="91.10" cy="391.85" r="2.0" fill="#000"/>
<circle cx="117.10" cy="391.85" r="1.65" fill="none" stroke="#333" stroke-width="0.8"/>
<circle cx="130.10" cy="391.85" r="2.0" fill="#000"/>
<circle cx="221.10" cy="391.85" r="1.65" fill="none" stroke="#333" stroke-width="0.8"/>
<circle cx="234.10" cy="391.85" r="1.65" fill="none" stroke="#333" stroke-width="0.8"/>
<circle cx="247.10" cy="391.85" r="1.65" fill="none" stroke="#333" stroke-width="0.8"/>
<circle cx="273.10" cy="391.85" r="2.0" fill="#000"/>
<circle cx="325.10" cy="391.85" r="2.0" fill="#000"/>
<circle cx="390.10" cy="391.85" r="2.0" fill="#000"/>
<circle cx="429.10" cy="391.85" r="1.65" fill="none" stroke="#333" stroke-width="0.8"/>
<circle cx="455.10" cy="391.85" r="2.0" fill="#000"/>
<circle cx="468.10" cy="391.85" r="2.0" fill="#000"/>
<circle cx="520.10" cy="391.85" r="2.0" fill="#000"/>
<circle cx="533.10" cy="391.85" r="2.0" fill="#000"/>
<circle cx="546.10" cy="391.85" r="1.65" fill="none" stroke="#333" stroke-width="0.8"/>
<circle cx="559.10" cy="391.85" r="1.65" fill="none" stroke="#333" stroke-width="0.8"/>
<circle cx="585.10" cy="391.85" r="1.65" fill="none" stroke="#333" stroke-width="0.8"/>
<line x1="54.6" x2="57.7" y1="391.85" y2="391.85" stroke="#333" stroke-width="0.9"/>
<text x="53.6" y="394.95" font-size="8.8" text-anchor="end" fill="#1a1a1a">WBC</text>
<rect x="57.7" y="385.7" width="547.70" height="12.30" fill="none" stroke="#999" stroke-width="1"/>
<rect x="58.60" y="403.40" width="13.00" height="10.50" fill="#f5dfb2" stroke="#fff" stroke-width="0.2"/>
<rect x="71.60" y="403.40" width="13.00" height="10.50" fill="#f7e5c2" stroke="#fff" stroke-width="0.2"/>
<rect x="84.60" y="403.40" width="13.00" height="10.50" fill="#f7e5c2" stroke="#fff" stroke-width="0.2"/>
<rect x="97.60" y="403.40" width="13.00" height="10.50" fill="#f7e5c2" stroke="#fff" stroke-width="0.2"/>
<rect x="110.60" y="403.40" width="13.00" height="10.50" fill="#cbb2fd" stroke="#fff" stroke-width="0.2"/>
<rect x="123.60" y="403.40" width="13.00" height="10.50" fill="#f5dfb2" stroke="#fff" stroke-width="0.2"/>
<rect x="136.60" y="403.40" width="13.00" height="10.50" fill="#f5dfb2" stroke="#fff" stroke-width="0.2"/>
<rect x="149.60" y="403.40" width="13.00" height="10.50" fill="#f7e5c2" stroke="#fff" stroke-width="0.2"/>
<rect x="162.60" y="403.40" width="13.00" height="10.50" fill="#efcb85" stroke="#fff" stroke-width="0.2"/>
<rect x="175.60" y="403.40" width="13.00" height="10.50" fill="#f9ecd1" stroke="#fff" stroke-width="0.2"/>
<rect x="188.60" y="403.40" width="13.00" height="10.50" fill="#faefd9" stroke="#fff" stroke-width="0.2"/>
<rect x="201.60" y="403.40" width="13.00" height="10.50" fill="#f8e8ca" stroke="#fff" stroke-width="0.2"/>
<rect x="214.60" y="403.40" width="13.00" height="10.50" fill="#fcf6ea" stroke="#fff" stroke-width="0.2"/>
<rect x="227.60" y="403.40" width="13.00" height="10.50" fill="#faefd9" stroke="#fff" stroke-width="0.2"/>
<rect x="240.60" y="403.40" width="13.00" height="10.50" fill="#f7e5c2" stroke="#fff" stroke-width="0.2"/>
<rect x="253.60" y="403.40" width="13.00" height="10.50" fill="#ece4fe" stroke="#fff" stroke-width="0.2"/>
<rect x="266.60" y="403.40" width="13.00" height="10.50" fill="#fdf9f0" stroke="#fff" stroke-width="0.2"/>
<rect x="279.60" y="403.40" width="13.00" height="10.50" fill="#faefd9" stroke="#fff" stroke-width="0.2"/>
<rect x="292.60" y="403.40" width="13.00" height="10.50" fill="#f9ecd1" stroke="#fff" stroke-width="0.2"/>
<rect x="305.60" y="403.40" width="13.00" height="10.50" fill="#f1d294" stroke="#fff" stroke-width="0.2"/>
<rect x="318.60" y="403.40" width="13.00" height="10.50" fill="#f5dfb2" stroke="#fff" stroke-width="0.2"/>
<rect x="331.60" y="403.40" width="13.00" height="10.50" fill="#f5dfb2" stroke="#fff" stroke-width="0.2"/>
<rect x="344.60" y="403.40" width="13.00" height="10.50" fill="#fbf2e1" stroke="#fff" stroke-width="0.2"/>
<rect x="357.60" y="403.40" width="13.00" height="10.50" fill="#f5dfb2" stroke="#fff" stroke-width="0.2"/>
<rect x="370.60" y="403.40" width="13.00" height="10.50" fill="#d2bdfd" stroke="#fff" stroke-width="0.2"/>
<rect x="383.60" y="403.40" width="13.00" height="10.50" fill="#f8f4ff" stroke="#fff" stroke-width="0.2"/>
<rect x="396.60" y="403.40" width="13.00" height="10.50" fill="#fcf6ea" stroke="#fff" stroke-width="0.2"/>
<rect x="409.60" y="403.40" width="13.00" height="10.50" fill="#f5dfb2" stroke="#fff" stroke-width="0.2"/>
<rect x="422.60" y="403.40" width="13.00" height="10.50" fill="#f5dfb2" stroke="#fff" stroke-width="0.2"/>
<rect x="435.60" y="403.40" width="13.00" height="10.50" fill="#f5dfb2" stroke="#fff" stroke-width="0.2"/>
<rect x="448.60" y="403.40" width="13.00" height="10.50" fill="#f4efff" stroke="#fff" stroke-width="0.2"/>
<rect x="461.60" y="403.40" width="13.00" height="10.50" fill="#faefd9" stroke="#fff" stroke-width="0.2"/>
<rect x="474.60" y="403.40" width="13.00" height="10.50" fill="#f7e5c2" stroke="#fff" stroke-width="0.2"/>
<rect x="487.60" y="403.40" width="13.00" height="10.50" fill="#f9ecd1" stroke="#fff" stroke-width="0.2"/>
<rect x="500.60" y="403.40" width="13.00" height="10.50" fill="#f0d08f" stroke="#fff" stroke-width="0.2"/>
<rect x="513.60" y="403.40" width="13.00" height="10.50" fill="#fdf9f0" stroke="#fff" stroke-width="0.2"/>
<rect x="526.60" y="403.40" width="13.00" height="10.50" fill="#faefd9" stroke="#fff" stroke-width="0.2"/>
<rect x="539.60" y="403.40" width="13.00" height="10.50" fill="#f0d08f" stroke="#fff" stroke-width="0.2"/>
<rect x="552.60" y="403.40" width="13.00" height="10.50" fill="#faefd9" stroke="#fff" stroke-width="0.2"/>
<rect x="565.60" y="403.40" width="13.00" height="10.50" fill="#f9ecd1" stroke="#fff" stroke-width="0.2"/>
<rect x="578.60" y="403.40" width="13.00" height="10.50" fill="#faefd9" stroke="#fff" stroke-width="0.2"/>
<rect x="591.60" y="403.40" width="13.00" height="10.50" fill="#f0d08f" stroke="#fff" stroke-width="0.2"/>
<rect x="58.60" y="413.90" width="13.00" height="10.50" fill="#f5dfb2" stroke="#fff" stroke-width="0.2"/>
<rect x="71.60" y="413.90" width="13.00" height="10.50" fill="#f7e5c2" stroke="#fff" stroke-width="0.2"/>
<rect x="84.60" y="413.90" width="13.00" height="10.50" fill="#f7e5c2" stroke="#fff" stroke-width="0.2"/>
<rect x="97.60" y="413.90" width="13.00" height="10.50" fill="#f7e5c2" stroke="#fff" stroke-width="0.2"/>
<rect x="110.60" y="413.90" width="13.00" height="10.50" fill="#cbb2fd" stroke="#fff" stroke-width="0.2"/>
<rect x="123.60" y="413.90" width="13.00" height="10.50" fill="#f5dfb2" stroke="#fff" stroke-width="0.2"/>
<rect x="136.60" y="413.90" width="13.00" height="10.50" fill="#f5dfb2" stroke="#fff" stroke-width="0.2"/>
<rect x="149.60" y="413.90" width="13.00" height="10.50" fill="#f7e5c2" stroke="#fff" stroke-width="0.2"/>
<rect x="162.60" y="413.90" width="13.00" height="10.50" fill="#efcb85" stroke="#fff" stroke-width="0.2"/>
<rect x="175.60" y="413.90" width="13.00" height="10.50" fill="#fbf2e1" stroke="#fff" stroke-width="0.2"/>
<rect x="188.60" y="413.90" width="13.00" height="10.50" fill="#fbf2e1" stroke="#fff" stroke-width="0.2"/>
<rect x="201.60" y="413.90" width="13.00" height="10.50" fill="#f8e8ca" stroke="#fff" stroke-width="0.2"/>
<rect x="214.60" y="413.90" width="13.00" height="10.50" fill="#fdf9f0" stroke="#fff" stroke-width="0.2"/>
<rect x="227.60" y="413.90" width="13.00" height="10.50" fill="#faefd9" stroke="#fff" stroke-width="0.2"/>
<rect x="240.60" y="413.90" width="13.00" height="10.50" fill="#f7e5c2" stroke="#fff" stroke-width="0.2"/>
<rect x="253.60" y="413.90" width="13.00" height="10.50" fill="#ece4fe" stroke="#fff" stroke-width="0.2"/>
<rect x="266.60" y="413.90" width="13.00" height="10.50" fill="#fdf9f0" stroke="#fff" stroke-width="0.2"/>
<rect x="279.60" y="413.90" width="13.00" height="10.50" fill="#faefd9" stroke="#fff" stroke-width="0.2"/>
<rect x="292.60" y="413.90" width="13.00" height="10.50" fill="#faefd9" stroke="#fff" stroke-width="0.2"/>
<rect x="305.60" y="413.90" width="13.00" height="10.50" fill="#f3d9a6" stroke="#fff" stroke-width="0.2"/>
<rect x="318.60" y="413.90" width="13.00" height="10.50" fill="#f5dfb2" stroke="#fff" stroke-width="0.2"/>
<rect x="331.60" y="413.90" width="13.00" height="10.50" fill="#f5dfb2" stroke="#fff" stroke-width="0.2"/>
<rect x="344.60" y="413.90" width="13.00" height="10.50" fill="#fdf9f0" stroke="#fff" stroke-width="0.2"/>
<rect x="357.60" y="413.90" width="13.00" height="10.50" fill="#f5dfb2" stroke="#fff" stroke-width="0.2"/>
<rect x="370.60" y="413.90" width="13.00" height="10.50" fill="#d2bdfd" stroke="#fff" stroke-width="0.2"/>
<rect x="383.60" y="413.90" width="13.00" height="10.50" fill="#f0e9fe" stroke="#fff" stroke-width="0.2"/>
<rect x="396.60" y="413.90" width="13.00" height="10.50" fill="#fdf9f0" stroke="#fff" stroke-width="0.2"/>
<rect x="409.60" y="413.90" width="13.00" height="10.50" fill="#f7e5c2" stroke="#fff" stroke-width="0.2"/>
<rect x="422.60" y="413.90" width="13.00" height="10.50" fill="#f7e5c2" stroke="#fff" stroke-width="0.2"/>
<rect x="435.60" y="413.90" width="13.00" height="10.50" fill="#f7e5c2" stroke="#fff" stroke-width="0.2"/>
<rect x="448.60" y="413.90" width="13.00" height="10.50" fill="#f4efff" stroke="#fff" stroke-width="0.2"/>
<rect x="461.60" y="413.90" width="13.00" height="10.50" fill="#faefd9" stroke="#fff" stroke-width="0.2"/>
<rect x="474.60" y="413.90" width="13.00" height="10.50" fill="#f7e5c2" stroke="#fff" stroke-width="0.2"/>
<rect x="487.60" y="413.90" width="13.00" height="10.50" fill="#f9ecd1" stroke="#fff" stroke-width="0.2"/>
<rect x="500.60" y="413.90" width="13.00" height="10.50" fill="#f0d08f" stroke="#fff" stroke-width="0.2"/>
<rect x="513.60" y="413.90" width="13.00" height="10.50" fill="#fdf9f0" stroke="#fff" stroke-width="0.2"/>
<rect x="526.60" y="413.90" width="13.00" height="10.50" fill="#faefd9" stroke="#fff" stroke-width="0.2"/>
<rect x="539.60" y="413.90" width="13.00" height="10.50" fill="#f0d08f" stroke="#fff" stroke-width="0.2"/>
<rect x="552.60" y="413.90" width="13.00" height="10.50" fill="#fbf2e1" stroke="#fff" stroke-width="0.2"/>
<rect x="565.60" y="413.90" width="13.00" height="10.50" fill="#faefd9" stroke="#fff" stroke-width="0.2"/>
<rect x="578.60" y="413.90" width="13.00" height="10.50" fill="#fbf2e1" stroke="#fff" stroke-width="0.2"/>
<rect x="591.60" y="413.90" width="13.00" height="10.50" fill="#f3d9a6" stroke="#fff" stroke-width="0.2"/>
<rect x="58.60" y="424.40" width="13.00" height="10.50" fill="#eec77b" stroke="#fff" stroke-width="0.2"/>
<rect x="71.60" y="424.40" width="13.00" height="10.50" fill="#efcb85" stroke="#fff" stroke-width="0.2"/>
<rect x="84.60" y="424.40" width="13.00" height="10.50" fill="#efcb85" stroke="#fff" stroke-width="0.2"/>
<rect x="97.60" y="424.40" width="13.00" height="10.50" fill="#eec77b" stroke="#fff" stroke-width="0.2"/>
<rect x="110.60" y="424.40" width="13.00" height="10.50" fill="#fefcf9" stroke="#fff" stroke-width="0.2"/>
<rect x="123.60" y="424.40" width="13.00" height="10.50" fill="#efcb85" stroke="#fff" stroke-width="0.2"/>
<rect x="136.60" y="424.40" width="13.00" height="10.50" fill="#efcb85" stroke="#fff" stroke-width="0.2"/>
<rect x="149.60" y="424.40" width="13.00" height="10.50" fill="#efcb85" stroke="#fff" stroke-width="0.2"/>
<rect x="162.60" y="424.40" width="13.00" height="10.50" fill="#f5dfb2" stroke="#fff" stroke-width="0.2"/>
<rect x="175.60" y="424.40" width="13.00" height="10.50" fill="#efcb85" stroke="#fff" stroke-width="0.2"/>
<rect x="188.60" y="424.40" width="13.00" height="10.50" fill="#f2d499" stroke="#fff" stroke-width="0.2"/>
<rect x="201.60" y="424.40" width="13.00" height="10.50" fill="#f7e5c2" stroke="#fff" stroke-width="0.2"/>
<rect x="214.60" y="424.40" width="13.00" height="10.50" fill="#f2d499" stroke="#fff" stroke-width="0.2"/>
<rect x="227.60" y="424.40" width="13.00" height="10.50" fill="#faefd9" stroke="#fff" stroke-width="0.2"/>
<rect x="240.60" y="424.40" width="13.00" height="10.50" fill="#f0d08f" stroke="#fff" stroke-width="0.2"/>
<rect x="253.60" y="424.40" width="13.00" height="10.50" fill="#fbf2e1" stroke="#fff" stroke-width="0.2"/>
<rect x="266.60" y="424.40" width="13.00" height="10.50" fill="#faefd9" stroke="#fff" stroke-width="0.2"/>
<rect x="279.60" y="424.40" width="13.00" height="10.50" fill="#f2d499" stroke="#fff" stroke-width="0.2"/>
<rect x="292.60" y="424.40" width="13.00" height="10.50" fill="#f1d294" stroke="#fff" stroke-width="0.2"/>
<rect x="305.60" y="424.40" width="13.00" height="10.50" fill="#f1d294" stroke="#fff" stroke-width="0.2"/>
<rect x="318.60" y="424.40" width="13.00" height="10.50" fill="#f2d499" stroke="#fff" stroke-width="0.2"/>
<rect x="331.60" y="424.40" width="13.00" height="10.50" fill="#f2d499" stroke="#fff" stroke-width="0.2"/>
<rect x="344.60" y="424.40" width="13.00" height="10.50" fill="#efcb85" stroke="#fff" stroke-width="0.2"/>
<rect x="357.60" y="424.40" width="13.00" height="10.50" fill="#f9ecd1" stroke="#fff" stroke-width="0.2"/>
<rect x="370.60" y="424.40" width="13.00" height="10.50" fill="#f8f4ff" stroke="#fff" stroke-width="0.2"/>
<rect x="383.60" y="424.40" width="13.00" height="10.50" fill="#f2d499" stroke="#fff" stroke-width="0.2"/>
<rect x="396.60" y="424.40" width="13.00" height="10.50" fill="#f2d499" stroke="#fff" stroke-width="0.2"/>
<rect x="409.60" y="424.40" width="13.00" height="10.50" fill="#f2d499" stroke="#fff" stroke-width="0.2"/>
<rect x="422.60" y="424.40" width="13.00" height="10.50" fill="#f2d499" stroke="#fff" stroke-width="0.2"/>
<rect x="435.60" y="424.40" width="13.00" height="10.50" fill="#f2d499" stroke="#fff" stroke-width="0.2"/>
<rect x="448.60" y="424.40" width="13.00" height="10.50" fill="#fdf9f0" stroke="#fff" stroke-width="0.2"/>
<rect x="461.60" y="424.40" width="13.00" height="10.50" fill="#faefd9" stroke="#fff" stroke-width="0.2"/>
<rect x="474.60" y="424.40" width="13.00" height="10.50" fill="#f2d499" stroke="#fff" stroke-width="0.2"/>
<rect x="487.60" y="424.40" width="13.00" height="10.50" fill="#f2d499" stroke="#fff" stroke-width="0.2"/>
<rect x="500.60" y="424.40" width="13.00" height="10.50" fill="#f5dfb2" stroke="#fff" stroke-width="0.2"/>
<rect x="513.60" y="424.40" width="13.00" height="10.50" fill="#f7e5c2" stroke="#fff" stroke-width="0.2"/>
<rect x="526.60" y="424.40" width="13.00" height="10.50" fill="#f7e5c2" stroke="#fff" stroke-width="0.2"/>
<rect x="539.60" y="424.40" width="13.00" height="10.50" fill="#f2d499" stroke="#fff" stroke-width="0.2"/>
<rect x="552.60" y="424.40" width="13.00" height="10.50" fill="#f2d499" stroke="#fff" stroke-width="0.2"/>
<rect x="565.60" y="424.40" width="13.00" height="10.50" fill="#f2d499" stroke="#fff" stroke-width="0.2"/>
<rect x="578.60" y="424.40" width="13.00" height="10.50" fill="#f0d08f" stroke="#fff" stroke-width="0.2"/>
<rect x="591.60" y="424.40" width="13.00" height="10.50" fill="#f5dfb2" stroke="#fff" stroke-width="0.2"/>
<rect x="58.60" y="434.90" width="13.00" height="10.50" fill="#f9ecd1" stroke="#fff" stroke-width="0.2"/>
<rect x="71.60" y="434.90" width="13.00" height="10.50" fill="#faefd9" stroke="#fff" stroke-width="0.2"/>
<rect x="84.60" y="434.90" width="13.00" height="10.50" fill="#fcf6ea" stroke="#fff" stroke-width="0.2"/>
<rect x="97.60" y="434.90" width="13.00" height="10.50" fill="#ffffff" stroke="#fff" stroke-width="0.2"/>
<rect x="110.60" y="434.90" width="13.00" height="10.50" fill="#e9defe" stroke="#fff" stroke-width="0.2"/>
<rect x="123.60" y="434.90" width="13.00" height="10.50" fill="#fdf9f0" stroke="#fff" stroke-width="0.2"/>
<rect x="136.60" y="434.90" width="13.00" height="10.50" fill="#f8f4ff" stroke="#fff" stroke-width="0.2"/>
<rect x="149.60" y="434.90" width="13.00" height="10.50" fill="#ffffff" stroke="#fff" stroke-width="0.2"/>
<rect x="162.60" y="434.90" width="13.00" height="10.50" fill="#fbf2e1" stroke="#fff" stroke-width="0.2"/>
<rect x="175.60" y="434.90" width="13.00" height="10.50" fill="#faefd9" stroke="#fff" stroke-width="0.2"/>
<rect x="188.60" y="434.90" width="13.00" height="10.50" fill="#fefcf9" stroke="#fff" stroke-width="0.2"/>
<rect x="201.60" y="434.90" width="13.00" height="10.50" fill="#fdf9f0" stroke="#fff" stroke-width="0.2"/>
<rect x="214.60" y="434.90" width="13.00" height="10.50" fill="#e1d3fe" stroke="#fff" stroke-width="0.2"/>
<rect x="227.60" y="434.90" width="13.00" height="10.50" fill="#faefd9" stroke="#fff" stroke-width="0.2"/>
<rect x="240.60" y="434.90" width="13.00" height="10.50" fill="#fcf6ea" stroke="#fff" stroke-width="0.2"/>
<rect x="253.60" y="434.90" width="13.00" height="10.50" fill="#fbf2e1" stroke="#fff" stroke-width="0.2"/>
<rect x="266.60" y="434.90" width="13.00" height="10.50" fill="#f7e5c2" stroke="#fff" stroke-width="0.2"/>
<rect x="279.60" y="434.90" width="13.00" height="10.50" fill="#ece4fe" stroke="#fff" stroke-width="0.2"/>
<rect x="292.60" y="434.90" width="13.00" height="10.50" fill="#f5dfb2" stroke="#fff" stroke-width="0.2"/>
<rect x="305.60" y="434.90" width="13.00" height="10.50" fill="#f8f4ff" stroke="#fff" stroke-width="0.2"/>
<rect x="318.60" y="434.90" width="13.00" height="10.50" fill="#f9ecd1" stroke="#fff" stroke-width="0.2"/>
<rect x="331.60" y="434.90" width="13.00" height="10.50" fill="#fbfaff" stroke="#fff" stroke-width="0.2"/>
<rect x="344.60" y="434.90" width="13.00" height="10.50" fill="#fbf2e1" stroke="#fff" stroke-width="0.2"/>
<rect x="357.60" y="434.90" width="13.00" height="10.50" fill="#fdf9f0" stroke="#fff" stroke-width="0.2"/>
<rect x="370.60" y="434.90" width="13.00" height="10.50" fill="#f4efff" stroke="#fff" stroke-width="0.2"/>
<rect x="383.60" y="434.90" width="13.00" height="10.50" fill="#f4efff" stroke="#fff" stroke-width="0.2"/>
<rect x="396.60" y="434.90" width="13.00" height="10.50" fill="#e9defe" stroke="#fff" stroke-width="0.2"/>
<rect x="409.60" y="434.90" width="13.00" height="10.50" fill="#fbf2e1" stroke="#fff" stroke-width="0.2"/>
<rect x="422.60" y="434.90" width="13.00" height="10.50" fill="#fbf2e1" stroke="#fff" stroke-width="0.2"/>
<rect x="435.60" y="434.90" width="13.00" height="10.50" fill="#faefd9" stroke="#fff" stroke-width="0.2"/>
<rect x="448.60" y="434.90" width="13.00" height="10.50" fill="#f5dfb2" stroke="#fff" stroke-width="0.2"/>
<rect x="461.60" y="434.90" width="13.00" height="10.50" fill="#f9ecd1" stroke="#fff" stroke-width="0.2"/>
<rect x="474.60" y="434.90" width="13.00" height="10.50" fill="#ffffff" stroke="#fff" stroke-width="0.2"/>
<rect x="487.60" y="434.90" width="13.00" height="10.50" fill="#faefd9" stroke="#fff" stroke-width="0.2"/>
<rect x="500.60" y="434.90" width="13.00" height="10.50" fill="#f5dfb2" stroke="#fff" stroke-width="0.2"/>
<rect x="513.60" y="434.90" width="13.00" height="10.50" fill="#fbf2e1" stroke="#fff" stroke-width="0.2"/>
<rect x="526.60" y="434.90" width="13.00" height="10.50" fill="#f4efff" stroke="#fff" stroke-width="0.2"/>
<rect x="539.60" y="434.90" width="13.00" height="10.50" fill="#f5dfb2" stroke="#fff" stroke-width="0.2"/>
<rect x="552.60" y="434.90" width="13.00" height="10.50" fill="#fcf6ea" stroke="#fff" stroke-width="0.2"/>
<rect x="565.60" y="434.90" width="13.00" height="10.50" fill="#fbfaff" stroke="#fff" stroke-width="0.2"/>
<rect x="578.60" y="434.90" width="13.00" height="10.50" fill="#f8f4ff" stroke="#fff" stroke-width="0.2"/>
<rect x="591.60" y="434.90" width="13.00" height="10.50" fill="#fcf6ea" stroke="#fff" stroke-width="0.2"/>
<circle cx="65.10" cy="408.65" r="1.65" fill="none" stroke="#333" stroke-width="0.8"/>
<circle cx="78.10" cy="408.65" r="1.65" fill="none" stroke="#333" stroke-width="0.8"/>
<circle cx="91.10" cy="408.65" r="1.65" fill="none" stroke="#333" stroke-width="0.8"/>
<circle cx="117.10" cy="408.65" r="1.65" fill="none" stroke="#333" stroke-width="0.8"/>
<circle cx="130.10" cy="408.65" r="1.65" fill="none" stroke="#333" stroke-width="0.8"/>
<circle cx="143.10" cy="408.65" r="1.65" fill="none" stroke="#333" stroke-width="0.8"/>
<circle cx="156.10" cy="408.65" r="1.65" fill="none" stroke="#333" stroke-width="0.8"/>
<circle cx="169.10" cy="408.65" r="2.0" fill="#000"/>
<circle cx="247.10" cy="408.65" r="1.65" fill="none" stroke="#333" stroke-width="0.8"/>
<circle cx="312.10" cy="408.65" r="2.0" fill="#000"/>
<circle cx="325.10" cy="408.65" r="1.65" fill="none" stroke="#333" stroke-width="0.8"/>
<circle cx="338.10" cy="408.65" r="1.65" fill="none" stroke="#333" stroke-width="0.8"/>
<circle cx="364.10" cy="408.65" r="1.65" fill="none" stroke="#333" stroke-width="0.8"/>
<circle cx="377.10" cy="408.65" r="1.65" fill="none" stroke="#333" stroke-width="0.8"/>
<circle cx="416.10" cy="408.65" r="1.65" fill="none" stroke="#333" stroke-width="0.8"/>
<circle cx="429.10" cy="408.65" r="1.65" fill="none" stroke="#333" stroke-width="0.8"/>
<circle cx="442.10" cy="408.65" r="1.65" fill="none" stroke="#333" stroke-width="0.8"/>
<circle cx="481.10" cy="408.65" r="1.65" fill="none" stroke="#333" stroke-width="0.8"/>
<circle cx="507.10" cy="408.65" r="2.0" fill="#000"/>
<circle cx="546.10" cy="408.65" r="2.0" fill="#000"/>
<circle cx="598.10" cy="408.65" r="2.0" fill="#000"/>
<line x1="54.6" x2="57.7" y1="408.65" y2="408.65" stroke="#333" stroke-width="0.9"/>
<text x="53.6" y="411.75" font-size="8.8" text-anchor="end" fill="#1a1a1a">HOMA-IR</text>
<circle cx="65.10" cy="419.15" r="1.65" fill="none" stroke="#333" stroke-width="0.8"/>
<circle cx="117.10" cy="419.15" r="1.65" fill="none" stroke="#333" stroke-width="0.8"/>
<circle cx="130.10" cy="419.15" r="1.65" fill="none" stroke="#333" stroke-width="0.8"/>
<circle cx="143.10" cy="419.15" r="1.65" fill="none" stroke="#333" stroke-width="0.8"/>
<circle cx="169.10" cy="419.15" r="2.0" fill="#000"/>
<circle cx="247.10" cy="419.15" r="1.65" fill="none" stroke="#333" stroke-width="0.8"/>
<circle cx="312.10" cy="419.15" r="1.65" fill="none" stroke="#333" stroke-width="0.8"/>
<circle cx="325.10" cy="419.15" r="1.65" fill="none" stroke="#333" stroke-width="0.8"/>
<circle cx="338.10" cy="419.15" r="1.65" fill="none" stroke="#333" stroke-width="0.8"/>
<circle cx="364.10" cy="419.15" r="1.65" fill="none" stroke="#333" stroke-width="0.8"/>
<circle cx="377.10" cy="419.15" r="1.65" fill="none" stroke="#333" stroke-width="0.8"/>
<circle cx="416.10" cy="419.15" r="1.65" fill="none" stroke="#333" stroke-width="0.8"/>
<circle cx="429.10" cy="419.15" r="1.65" fill="none" stroke="#333" stroke-width="0.8"/>
<circle cx="442.10" cy="419.15" r="1.65" fill="none" stroke="#333" stroke-width="0.8"/>
<circle cx="481.10" cy="419.15" r="1.65" fill="none" stroke="#333" stroke-width="0.8"/>
<circle cx="507.10" cy="419.15" r="2.0" fill="#000"/>
<circle cx="546.10" cy="419.15" r="2.0" fill="#000"/>
<circle cx="598.10" cy="419.15" r="1.65" fill="none" stroke="#333" stroke-width="0.8"/>
<line x1="54.6" x2="57.7" y1="419.15" y2="419.15" stroke="#333" stroke-width="0.9"/>
<text x="53.6" y="422.25" font-size="8.8" text-anchor="end" fill="#1a1a1a">Insulin</text>
<circle cx="65.10" cy="429.65" r="2.0" fill="#000"/>
<circle cx="78.10" cy="429.65" r="2.0" fill="#000"/>
<circle cx="91.10" cy="429.65" r="2.0" fill="#000"/>
<circle cx="104.10" cy="429.65" r="2.0" fill="#000"/>
<circle cx="130.10" cy="429.65" r="2.0" fill="#000"/>
<circle cx="143.10" cy="429.65" r="2.0" fill="#000"/>
<circle cx="156.10" cy="429.65" r="2.0" fill="#000"/>
<circle cx="169.10" cy="429.65" r="1.65" fill="none" stroke="#333" stroke-width="0.8"/>
<circle cx="182.10" cy="429.65" r="2.0" fill="#000"/>
<circle cx="195.10" cy="429.65" r="2.0" fill="#000"/>
<circle cx="208.10" cy="429.65" r="1.65" fill="none" stroke="#333" stroke-width="0.8"/>
<circle cx="221.10" cy="429.65" r="2.0" fill="#000"/>
<circle cx="247.10" cy="429.65" r="2.0" fill="#000"/>
<circle cx="286.10" cy="429.65" r="2.0" fill="#000"/>
<circle cx="299.10" cy="429.65" r="2.0" fill="#000"/>
<circle cx="312.10" cy="429.65" r="2.0" fill="#000"/>
<circle cx="325.10" cy="429.65" r="2.0" fill="#000"/>
<circle cx="338.10" cy="429.65" r="2.0" fill="#000"/>
<circle cx="351.10" cy="429.65" r="2.0" fill="#000"/>
<circle cx="390.10" cy="429.65" r="2.0" fill="#000"/>
<circle cx="403.10" cy="429.65" r="2.0" fill="#000"/>
<circle cx="416.10" cy="429.65" r="2.0" fill="#000"/>
<circle cx="429.10" cy="429.65" r="2.0" fill="#000"/>
<circle cx="442.10" cy="429.65" r="2.0" fill="#000"/>
<circle cx="481.10" cy="429.65" r="2.0" fill="#000"/>
<circle cx="494.10" cy="429.65" r="2.0" fill="#000"/>
<circle cx="507.10" cy="429.65" r="1.65" fill="none" stroke="#333" stroke-width="0.8"/>
<circle cx="546.10" cy="429.65" r="2.0" fill="#000"/>
<circle cx="559.10" cy="429.65" r="2.0" fill="#000"/>
<circle cx="572.10" cy="429.65" r="2.0" fill="#000"/>
<circle cx="585.10" cy="429.65" r="2.0" fill="#000"/>
<circle cx="598.10" cy="429.65" r="1.65" fill="none" stroke="#333" stroke-width="0.8"/>
<line x1="54.6" x2="57.7" y1="429.65" y2="429.65" stroke="#333" stroke-width="0.9"/>
<text x="53.6" y="432.75" font-size="8.8" text-anchor="end" fill="#1a1a1a">Glucose</text>
<circle cx="299.10" cy="440.15" r="1.65" fill="none" stroke="#333" stroke-width="0.8"/>
<circle cx="455.10" cy="440.15" r="1.65" fill="none" stroke="#333" stroke-width="0.8"/>
<circle cx="507.10" cy="440.15" r="1.65" fill="none" stroke="#333" stroke-width="0.8"/>
<circle cx="546.10" cy="440.15" r="1.65" fill="none" stroke="#333" stroke-width="0.8"/>
<line x1="54.6" x2="57.7" y1="440.15" y2="440.15" stroke="#333" stroke-width="0.9"/>
<text x="53.6" y="443.25" font-size="8.8" text-anchor="end" fill="#1a1a1a">HbA1c</text>
<rect x="57.7" y="402.6" width="547.70" height="43.60" fill="none" stroke="#999" stroke-width="1"/>
<rect x="58.60" y="452.10" width="13.00" height="10.25" fill="#f4efff" stroke="#fff" stroke-width="0.2"/>
<rect x="71.60" y="452.10" width="13.00" height="10.25" fill="#fcf6ea" stroke="#fff" stroke-width="0.2"/>
<rect x="84.60" y="452.10" width="13.00" height="10.25" fill="#bc9cfc" stroke="#fff" stroke-width="0.2"/>
<rect x="97.60" y="452.10" width="13.00" height="10.25" fill="#f9ecd1" stroke="#fff" stroke-width="0.2"/>
<rect x="110.60" y="452.10" width="13.00" height="10.25" fill="#f8f4ff" stroke="#fff" stroke-width="0.2"/>
<rect x="123.60" y="452.10" width="13.00" height="10.25" fill="#ece4fe" stroke="#fff" stroke-width="0.2"/>
<rect x="136.60" y="452.10" width="13.00" height="10.25" fill="#e1d3fe" stroke="#fff" stroke-width="0.2"/>
<rect x="149.60" y="452.10" width="13.00" height="10.25" fill="#c7adfd" stroke="#fff" stroke-width="0.2"/>
<rect x="162.60" y="452.10" width="13.00" height="10.25" fill="#ece4fe" stroke="#fff" stroke-width="0.2"/>
<rect x="175.60" y="452.10" width="13.00" height="10.25" fill="#dac8fd" stroke="#fff" stroke-width="0.2"/>
<rect x="188.60" y="452.10" width="13.00" height="10.25" fill="#d2bdfd" stroke="#fff" stroke-width="0.2"/>
<rect x="201.60" y="452.10" width="13.00" height="10.25" fill="#f0e9fe" stroke="#fff" stroke-width="0.2"/>
<rect x="214.60" y="452.10" width="13.00" height="10.25" fill="#f0e9fe" stroke="#fff" stroke-width="0.2"/>
<rect x="227.60" y="452.10" width="13.00" height="10.25" fill="#fdf9f0" stroke="#fff" stroke-width="0.2"/>
<rect x="240.60" y="452.10" width="13.00" height="10.25" fill="#e1d3fe" stroke="#fff" stroke-width="0.2"/>
<rect x="253.60" y="452.10" width="13.00" height="10.25" fill="#fbf2e1" stroke="#fff" stroke-width="0.2"/>
<rect x="266.60" y="452.10" width="13.00" height="10.25" fill="#fcf6ea" stroke="#fff" stroke-width="0.2"/>
<rect x="279.60" y="452.10" width="13.00" height="10.25" fill="#cbb2fd" stroke="#fff" stroke-width="0.2"/>
<rect x="292.60" y="452.10" width="13.00" height="10.25" fill="#fcf6ea" stroke="#fff" stroke-width="0.2"/>
<rect x="305.60" y="452.10" width="13.00" height="10.25" fill="#e1d3fe" stroke="#fff" stroke-width="0.2"/>
<rect x="318.60" y="452.10" width="13.00" height="10.25" fill="#fbf2e1" stroke="#fff" stroke-width="0.2"/>
<rect x="331.60" y="452.10" width="13.00" height="10.25" fill="#ece4fe" stroke="#fff" stroke-width="0.2"/>
<rect x="344.60" y="452.10" width="13.00" height="10.25" fill="#fcf6ea" stroke="#fff" stroke-width="0.2"/>
<rect x="357.60" y="452.10" width="13.00" height="10.25" fill="#e9defe" stroke="#fff" stroke-width="0.2"/>
<rect x="370.60" y="452.10" width="13.00" height="10.25" fill="#c0a2fc" stroke="#fff" stroke-width="0.2"/>
<rect x="383.60" y="452.10" width="13.00" height="10.25" fill="#e1d3fe" stroke="#fff" stroke-width="0.2"/>
<rect x="396.60" y="452.10" width="13.00" height="10.25" fill="#e1d3fe" stroke="#fff" stroke-width="0.2"/>
<rect x="409.60" y="452.10" width="13.00" height="10.25" fill="#e1d3fe" stroke="#fff" stroke-width="0.2"/>
<rect x="422.60" y="452.10" width="13.00" height="10.25" fill="#dac8fd" stroke="#fff" stroke-width="0.2"/>
<rect x="435.60" y="452.10" width="13.00" height="10.25" fill="#d2bdfd" stroke="#fff" stroke-width="0.2"/>
<rect x="448.60" y="452.10" width="13.00" height="10.25" fill="#e9defe" stroke="#fff" stroke-width="0.2"/>
<rect x="461.60" y="452.10" width="13.00" height="10.25" fill="#f9ecd1" stroke="#fff" stroke-width="0.2"/>
<rect x="474.60" y="452.10" width="13.00" height="10.25" fill="#f8f4ff" stroke="#fff" stroke-width="0.2"/>
<rect x="487.60" y="452.10" width="13.00" height="10.25" fill="#f8f4ff" stroke="#fff" stroke-width="0.2"/>
<rect x="500.60" y="452.10" width="13.00" height="10.25" fill="#f8f4ff" stroke="#fff" stroke-width="0.2"/>
<rect x="513.60" y="452.10" width="13.00" height="10.25" fill="#fdf9f0" stroke="#fff" stroke-width="0.2"/>
<rect x="526.60" y="452.10" width="13.00" height="10.25" fill="#c0a2fc" stroke="#fff" stroke-width="0.2"/>
<rect x="539.60" y="452.10" width="13.00" height="10.25" fill="#fbf2e1" stroke="#fff" stroke-width="0.2"/>
<rect x="552.60" y="452.10" width="13.00" height="10.25" fill="#cbb2fd" stroke="#fff" stroke-width="0.2"/>
<rect x="565.60" y="452.10" width="13.00" height="10.25" fill="#c7adfd" stroke="#fff" stroke-width="0.2"/>
<rect x="578.60" y="452.10" width="13.00" height="10.25" fill="#dac8fd" stroke="#fff" stroke-width="0.2"/>
<rect x="591.60" y="452.10" width="13.00" height="10.25" fill="#e5d9fe" stroke="#fff" stroke-width="0.2"/>
<rect x="58.60" y="462.35" width="13.00" height="10.25" fill="#e1d3fe" stroke="#fff" stroke-width="0.2"/>
<rect x="71.60" y="462.35" width="13.00" height="10.25" fill="#f0e9fe" stroke="#fff" stroke-width="0.2"/>
<rect x="84.60" y="462.35" width="13.00" height="10.25" fill="#cbb2fd" stroke="#fff" stroke-width="0.2"/>
<rect x="97.60" y="462.35" width="13.00" height="10.25" fill="#fdf9f0" stroke="#fff" stroke-width="0.2"/>
<rect x="110.60" y="462.35" width="13.00" height="10.25" fill="#fdf9f0" stroke="#fff" stroke-width="0.2"/>
<rect x="123.60" y="462.35" width="13.00" height="10.25" fill="#f0e9fe" stroke="#fff" stroke-width="0.2"/>
<rect x="136.60" y="462.35" width="13.00" height="10.25" fill="#ffffff" stroke="#fff" stroke-width="0.2"/>
<rect x="149.60" y="462.35" width="13.00" height="10.25" fill="#cbb2fd" stroke="#fff" stroke-width="0.2"/>
<rect x="162.60" y="462.35" width="13.00" height="10.25" fill="#e5d9fe" stroke="#fff" stroke-width="0.2"/>
<rect x="175.60" y="462.35" width="13.00" height="10.25" fill="#cbb2fd" stroke="#fff" stroke-width="0.2"/>
<rect x="188.60" y="462.35" width="13.00" height="10.25" fill="#e1d3fe" stroke="#fff" stroke-width="0.2"/>
<rect x="201.60" y="462.35" width="13.00" height="10.25" fill="#dac8fd" stroke="#fff" stroke-width="0.2"/>
<rect x="214.60" y="462.35" width="13.00" height="10.25" fill="#f4efff" stroke="#fff" stroke-width="0.2"/>
<rect x="227.60" y="462.35" width="13.00" height="10.25" fill="#faefd9" stroke="#fff" stroke-width="0.2"/>
<rect x="240.60" y="462.35" width="13.00" height="10.25" fill="#e9defe" stroke="#fff" stroke-width="0.2"/>
<rect x="253.60" y="462.35" width="13.00" height="10.25" fill="#fbf2e1" stroke="#fff" stroke-width="0.2"/>
<rect x="266.60" y="462.35" width="13.00" height="10.25" fill="#e1d3fe" stroke="#fff" stroke-width="0.2"/>
<rect x="279.60" y="462.35" width="13.00" height="10.25" fill="#d2bdfd" stroke="#fff" stroke-width="0.2"/>
<rect x="292.60" y="462.35" width="13.00" height="10.25" fill="#e1d3fe" stroke="#fff" stroke-width="0.2"/>
<rect x="305.60" y="462.35" width="13.00" height="10.25" fill="#bc9cfc" stroke="#fff" stroke-width="0.2"/>
<rect x="318.60" y="462.35" width="13.00" height="10.25" fill="#fbf2e1" stroke="#fff" stroke-width="0.2"/>
<rect x="331.60" y="462.35" width="13.00" height="10.25" fill="#cfb8fd" stroke="#fff" stroke-width="0.2"/>
<rect x="344.60" y="462.35" width="13.00" height="10.25" fill="#f0e9fe" stroke="#fff" stroke-width="0.2"/>
<rect x="357.60" y="462.35" width="13.00" height="10.25" fill="#f4efff" stroke="#fff" stroke-width="0.2"/>
<rect x="370.60" y="462.35" width="13.00" height="10.25" fill="#ece4fe" stroke="#fff" stroke-width="0.2"/>
<rect x="383.60" y="462.35" width="13.00" height="10.25" fill="#e1d3fe" stroke="#fff" stroke-width="0.2"/>
<rect x="396.60" y="462.35" width="13.00" height="10.25" fill="#e1d3fe" stroke="#fff" stroke-width="0.2"/>
<rect x="409.60" y="462.35" width="13.00" height="10.25" fill="#e9defe" stroke="#fff" stroke-width="0.2"/>
<rect x="422.60" y="462.35" width="13.00" height="10.25" fill="#fefcf9" stroke="#fff" stroke-width="0.2"/>
<rect x="435.60" y="462.35" width="13.00" height="10.25" fill="#e9defe" stroke="#fff" stroke-width="0.2"/>
<rect x="448.60" y="462.35" width="13.00" height="10.25" fill="#d2bdfd" stroke="#fff" stroke-width="0.2"/>
<rect x="461.60" y="462.35" width="13.00" height="10.25" fill="#fdf9f0" stroke="#fff" stroke-width="0.2"/>
<rect x="474.60" y="462.35" width="13.00" height="10.25" fill="#f9ecd1" stroke="#fff" stroke-width="0.2"/>
<rect x="487.60" y="462.35" width="13.00" height="10.25" fill="#dac8fd" stroke="#fff" stroke-width="0.2"/>
<rect x="500.60" y="462.35" width="13.00" height="10.25" fill="#e9defe" stroke="#fff" stroke-width="0.2"/>
<rect x="513.60" y="462.35" width="13.00" height="10.25" fill="#f4efff" stroke="#fff" stroke-width="0.2"/>
<rect x="526.60" y="462.35" width="13.00" height="10.25" fill="#f0e9fe" stroke="#fff" stroke-width="0.2"/>
<rect x="539.60" y="462.35" width="13.00" height="10.25" fill="#f4efff" stroke="#fff" stroke-width="0.2"/>
<rect x="552.60" y="462.35" width="13.00" height="10.25" fill="#e9defe" stroke="#fff" stroke-width="0.2"/>
<rect x="565.60" y="462.35" width="13.00" height="10.25" fill="#e5d9fe" stroke="#fff" stroke-width="0.2"/>
<rect x="578.60" y="462.35" width="13.00" height="10.25" fill="#b591fc" stroke="#fff" stroke-width="0.2"/>
<rect x="591.60" y="462.35" width="13.00" height="10.25" fill="#e9defe" stroke="#fff" stroke-width="0.2"/>
<circle cx="91.10" cy="457.23" r="1.65" fill="none" stroke="#333" stroke-width="0.8"/>
<circle cx="377.10" cy="457.23" r="1.65" fill="none" stroke="#333" stroke-width="0.8"/>
<circle cx="533.10" cy="457.23" r="1.65" fill="none" stroke="#333" stroke-width="0.8"/>
<circle cx="572.10" cy="457.23" r="1.65" fill="none" stroke="#333" stroke-width="0.8"/>
<line x1="54.6" x2="57.7" y1="457.23" y2="457.23" stroke="#333" stroke-width="0.9"/>
<text x="53.6" y="460.33" font-size="8.8" text-anchor="end" fill="#1a1a1a">SBP SDS</text>
<circle cx="585.10" cy="467.48" r="1.65" fill="none" stroke="#333" stroke-width="0.8"/>
<line x1="54.6" x2="57.7" y1="467.48" y2="467.48" stroke="#333" stroke-width="0.9"/>
<text x="53.6" y="470.58" font-size="8.8" text-anchor="end" fill="#1a1a1a">DBP SDS</text>
<rect x="57.7" y="451.3" width="547.70" height="22.10" fill="none" stroke="#999" stroke-width="1"/>
<line x1="65.10" x2="65.10" y1="473.40" y2="476.0" stroke="#333" stroke-width="0.9"/>
<text transform="translate(68.15,479.0) rotate(-90)" font-size="8.8" text-anchor="end" fill="#1a1a1a">AXIN1</text>
<line x1="78.10" x2="78.10" y1="473.40" y2="476.0" stroke="#333" stroke-width="0.9"/>
<text transform="translate(81.15,479.0) rotate(-90)" font-size="8.8" text-anchor="end" fill="#1a1a1a">CASP8</text>
<line x1="91.10" x2="91.10" y1="473.40" y2="476.0" stroke="#333" stroke-width="0.9"/>
<text transform="translate(94.15,479.0) rotate(-90)" font-size="8.8" text-anchor="end" fill="#1a1a1a">CCL11</text>
<line x1="104.10" x2="104.10" y1="473.40" y2="476.0" stroke="#333" stroke-width="0.9"/>
<text transform="translate(107.15,479.0) rotate(-90)" font-size="8.8" text-anchor="end" fill="#1a1a1a">CCL20</text>
<line x1="117.10" x2="117.10" y1="473.40" y2="476.0" stroke="#333" stroke-width="0.9"/>
<text transform="translate(120.15,479.0) rotate(-90)" font-size="8.8" text-anchor="end" fill="#1a1a1a">CCL23</text>
<line x1="130.10" x2="130.10" y1="473.40" y2="476.0" stroke="#333" stroke-width="0.9"/>
<text transform="translate(133.15,479.0) rotate(-90)" font-size="8.8" text-anchor="end" fill="#1a1a1a">CCL25</text>
<line x1="143.10" x2="143.10" y1="473.40" y2="476.0" stroke="#333" stroke-width="0.9"/>
<text transform="translate(146.15,479.0) rotate(-90)" font-size="8.8" text-anchor="end" fill="#1a1a1a">CCL28</text>
<line x1="156.10" x2="156.10" y1="473.40" y2="476.0" stroke="#333" stroke-width="0.9"/>
<text transform="translate(159.15,479.0) rotate(-90)" font-size="8.8" text-anchor="end" fill="#1a1a1a">CD244</text>
<line x1="169.10" x2="169.10" y1="473.40" y2="476.0" stroke="#333" stroke-width="0.9"/>
<text transform="translate(172.15,479.0) rotate(-90)" font-size="8.8" text-anchor="end" fill="#1a1a1a">CD40</text>
<line x1="182.10" x2="182.10" y1="473.40" y2="476.0" stroke="#333" stroke-width="0.9"/>
<text transform="translate(185.15,479.0) rotate(-90)" font-size="8.8" text-anchor="end" fill="#1a1a1a">CD5</text>
<line x1="195.10" x2="195.10" y1="473.40" y2="476.0" stroke="#333" stroke-width="0.9"/>
<text transform="translate(198.15,479.0) rotate(-90)" font-size="8.8" text-anchor="end" fill="#1a1a1a">CD6</text>
<line x1="208.10" x2="208.10" y1="473.40" y2="476.0" stroke="#333" stroke-width="0.9"/>
<text transform="translate(211.15,479.0) rotate(-90)" font-size="8.8" text-anchor="end" fill="#1a1a1a">CDCP1</text>
<line x1="221.10" x2="221.10" y1="473.40" y2="476.0" stroke="#333" stroke-width="0.9"/>
<text transform="translate(224.15,479.0) rotate(-90)" font-size="8.8" text-anchor="end" fill="#1a1a1a">CX3CL1</text>
<line x1="234.10" x2="234.10" y1="473.40" y2="476.0" stroke="#333" stroke-width="0.9"/>
<text transform="translate(237.15,479.0) rotate(-90)" font-size="8.8" text-anchor="end" fill="#1a1a1a">CXCL11</text>
<line x1="247.10" x2="247.10" y1="473.40" y2="476.0" stroke="#333" stroke-width="0.9"/>
<text transform="translate(250.15,479.0) rotate(-90)" font-size="8.8" text-anchor="end" fill="#1a1a1a">CXCL6</text>
<line x1="260.10" x2="260.10" y1="473.40" y2="476.0" stroke="#333" stroke-width="0.9"/>
<text transform="translate(263.15,479.0) rotate(-90)" font-size="8.8" text-anchor="end" fill="#1a1a1a">CXCL9</text>
<line x1="273.10" x2="273.10" y1="473.40" y2="476.0" stroke="#333" stroke-width="0.9"/>
<text transform="translate(276.15,479.0) rotate(-90)" font-size="8.8" text-anchor="end" fill="#1a1a1a">ENRAGE</text>
<line x1="286.10" x2="286.10" y1="473.40" y2="476.0" stroke="#333" stroke-width="0.9"/>
<text transform="translate(289.15,479.0) rotate(-90)" font-size="8.8" text-anchor="end" fill="#1a1a1a">FGF19</text>
<line x1="299.10" x2="299.10" y1="473.40" y2="476.0" stroke="#333" stroke-width="0.9"/>
<text transform="translate(302.15,479.0) rotate(-90)" font-size="8.8" text-anchor="end" fill="#1a1a1a">FGF21</text>
<line x1="312.10" x2="312.10" y1="473.40" y2="476.0" stroke="#333" stroke-width="0.9"/>
<text transform="translate(315.15,479.0) rotate(-90)" font-size="8.8" text-anchor="end" fill="#1a1a1a">Flt3L</text>
<line x1="325.10" x2="325.10" y1="473.40" y2="476.0" stroke="#333" stroke-width="0.9"/>
<text transform="translate(328.15,479.0) rotate(-90)" font-size="8.8" text-anchor="end" fill="#1a1a1a">HGF</text>
<line x1="338.10" x2="338.10" y1="473.40" y2="476.0" stroke="#333" stroke-width="0.9"/>
<text transform="translate(341.15,479.0) rotate(-90)" font-size="8.8" text-anchor="end" fill="#1a1a1a">IL10RB</text>
<line x1="351.10" x2="351.10" y1="473.40" y2="476.0" stroke="#333" stroke-width="0.9"/>
<text transform="translate(354.15,479.0) rotate(-90)" font-size="8.8" text-anchor="end" fill="#1a1a1a">IL17C</text>
<line x1="364.10" x2="364.10" y1="473.40" y2="476.0" stroke="#333" stroke-width="0.9"/>
<text transform="translate(367.15,479.0) rotate(-90)" font-size="8.8" text-anchor="end" fill="#1a1a1a">IL18R1</text>
<line x1="377.10" x2="377.10" y1="473.40" y2="476.0" stroke="#333" stroke-width="0.9"/>
<text transform="translate(380.15,479.0) rotate(-90)" font-size="8.8" text-anchor="end" fill="#1a1a1a">IL7</text>
<line x1="390.10" x2="390.10" y1="473.40" y2="476.0" stroke="#333" stroke-width="0.9"/>
<text transform="translate(393.15,479.0) rotate(-90)" font-size="8.8" text-anchor="end" fill="#1a1a1a">IL8</text>
<line x1="403.10" x2="403.10" y1="473.40" y2="476.0" stroke="#333" stroke-width="0.9"/>
<text transform="translate(406.15,479.0) rotate(-90)" font-size="8.8" text-anchor="end" fill="#1a1a1a">LIFR</text>
<line x1="416.10" x2="416.10" y1="473.40" y2="476.0" stroke="#333" stroke-width="0.9"/>
<text transform="translate(419.15,479.0) rotate(-90)" font-size="8.8" text-anchor="end" fill="#1a1a1a">MCP1</text>
<line x1="429.10" x2="429.10" y1="473.40" y2="476.0" stroke="#333" stroke-width="0.9"/>
<text transform="translate(432.15,479.0) rotate(-90)" font-size="8.8" text-anchor="end" fill="#1a1a1a">MCP2</text>
<line x1="442.10" x2="442.10" y1="473.40" y2="476.0" stroke="#333" stroke-width="0.9"/>
<text transform="translate(445.15,479.0) rotate(-90)" font-size="8.8" text-anchor="end" fill="#1a1a1a">MCP4</text>
<line x1="455.10" x2="455.10" y1="473.40" y2="476.0" stroke="#333" stroke-width="0.9"/>
<text transform="translate(458.15,479.0) rotate(-90)" font-size="8.8" text-anchor="end" fill="#1a1a1a">MMP10</text>
<line x1="468.10" x2="468.10" y1="473.40" y2="476.0" stroke="#333" stroke-width="0.9"/>
<text transform="translate(471.15,479.0) rotate(-90)" font-size="8.8" text-anchor="end" fill="#1a1a1a">OSM</text>
<line x1="481.10" x2="481.10" y1="473.40" y2="476.0" stroke="#333" stroke-width="0.9"/>
<text transform="translate(484.15,479.0) rotate(-90)" font-size="8.8" text-anchor="end" fill="#1a1a1a">PDL1</text>
<line x1="494.10" x2="494.10" y1="473.40" y2="476.0" stroke="#333" stroke-width="0.9"/>
<text transform="translate(497.15,479.0) rotate(-90)" font-size="8.8" text-anchor="end" fill="#1a1a1a">SLAMF1</text>
<line x1="507.10" x2="507.10" y1="473.40" y2="476.0" stroke="#333" stroke-width="0.9"/>
<text transform="translate(510.15,479.0) rotate(-90)" font-size="8.8" text-anchor="end" fill="#1a1a1a">ST1A1</text>
<line x1="520.10" x2="520.10" y1="473.40" y2="476.0" stroke="#333" stroke-width="0.9"/>
<text transform="translate(523.15,479.0) rotate(-90)" font-size="8.8" text-anchor="end" fill="#1a1a1a">TGFa</text>
<line x1="533.10" x2="533.10" y1="473.40" y2="476.0" stroke="#333" stroke-width="0.9"/>
<text transform="translate(536.15,479.0) rotate(-90)" font-size="8.8" text-anchor="end" fill="#1a1a1a">TNFB</text>
<line x1="546.10" x2="546.10" y1="473.40" y2="476.0" stroke="#333" stroke-width="0.9"/>
<text transform="translate(549.15,479.0) rotate(-90)" font-size="8.8" text-anchor="end" fill="#1a1a1a">TNFSF14</text>
<line x1="559.10" x2="559.10" y1="473.40" y2="476.0" stroke="#333" stroke-width="0.9"/>
<text transform="translate(562.15,479.0) rotate(-90)" font-size="8.8" text-anchor="end" fill="#1a1a1a">TRANCE</text>
<line x1="572.10" x2="572.10" y1="473.40" y2="476.0" stroke="#333" stroke-width="0.9"/>
<text transform="translate(575.15,479.0) rotate(-90)" font-size="8.8" text-anchor="end" fill="#1a1a1a">TWEAK</text>
<line x1="585.10" x2="585.10" y1="473.40" y2="476.0" stroke="#333" stroke-width="0.9"/>
<text transform="translate(588.15,479.0) rotate(-90)" font-size="8.8" text-anchor="end" fill="#1a1a1a">uPA</text>
<line x1="598.10" x2="598.10" y1="473.40" y2="476.0" stroke="#333" stroke-width="0.9"/>
<text transform="translate(601.15,479.0) rotate(-90)" font-size="8.8" text-anchor="end" fill="#1a1a1a">VEGFA</text>
<text x="618.2" y="312.9" font-size="8.8" fill="#000">P-value</text>
<circle cx="624.2" cy="324.3" r="1.65" fill="none" stroke="#333" stroke-width="0.8"/>
<text x="635" y="327.4" font-size="8.8" fill="#000">P &lt; 0.05</text>
<circle cx="624.2" cy="337.2" r="2.0" fill="#000"/>
<text x="635" y="340.3" font-size="8.8" fill="#000">P &lt; 5% FDR</text>
<text x="618.2" y="366.7" font-size="8.8" fill="#000">Beta</text>
<defs><linearGradient id="cb" x1="0" y1="1" x2="0" y2="0">
<stop offset="0.000" stop-color="#8c55fa"/>
<stop offset="0.050" stop-color="#9b6bfb"/>
<stop offset="0.100" stop-color="#a980fb"/>
<stop offset="0.150" stop-color="#b896fc"/>
<stop offset="0.200" stop-color="#c6abfd"/>
<stop offset="0.250" stop-color="#d5c1fd"/>
<stop offset="0.300" stop-color="#e4d7fe"/>
<stop offset="0.350" stop-color="#f2ecfe"/>
<stop offset="0.400" stop-color="#fffefc"/>
<stop offset="0.450" stop-color="#fcf6e9"/>
<stop offset="0.500" stop-color="#faedd6"/>
<stop offset="0.550" stop-color="#f7e5c2"/>
<stop offset="0.600" stop-color="#f4ddaf"/>
<stop offset="0.650" stop-color="#f2d59b"/>
<stop offset="0.700" stop-color="#efcd88"/>
<stop offset="0.750" stop-color="#edc575"/>
<stop offset="0.800" stop-color="#eabc61"/>
<stop offset="0.850" stop-color="#e8b44e"/>
<stop offset="0.900" stop-color="#e5ac3b"/>
<stop offset="0.950" stop-color="#e3a52a"/>
<stop offset="1.000" stop-color="#e3a52a"/>
</linearGradient></defs>
<rect x="618" y="371.9" width="12.9" height="64.10" fill="url(#cb)"/>
<line x1="618" x2="620.6" y1="379.80" y2="379.80" stroke="#fff" stroke-width="0.6"/>
<line x1="628.3" x2="630.9" y1="379.80" y2="379.80" stroke="#fff" stroke-width="0.6"/>
<text x="635" y="382.90" font-size="8.8" fill="#1a1a1a">0.4</text>
<line x1="618" x2="620.6" y1="395.30" y2="395.30" stroke="#fff" stroke-width="0.6"/>
<line x1="628.3" x2="630.9" y1="395.30" y2="395.30" stroke="#fff" stroke-width="0.6"/>
<text x="635" y="398.40" font-size="8.8" fill="#1a1a1a">0.2</text>
<line x1="618" x2="620.6" y1="410.80" y2="410.80" stroke="#fff" stroke-width="0.6"/>
<line x1="628.3" x2="630.9" y1="410.80" y2="410.80" stroke="#fff" stroke-width="0.6"/>
<text x="635" y="413.90" font-size="8.8" fill="#1a1a1a">0.0</text>
<line x1="618" x2="620.6" y1="426.30" y2="426.30" stroke="#fff" stroke-width="0.6"/>
<line x1="628.3" x2="630.9" y1="426.30" y2="426.30" stroke="#fff" stroke-width="0.6"/>
<text x="635" y="429.40" font-size="8.8" fill="#1a1a1a">-0.2</text>
</svg>
</body></html>
